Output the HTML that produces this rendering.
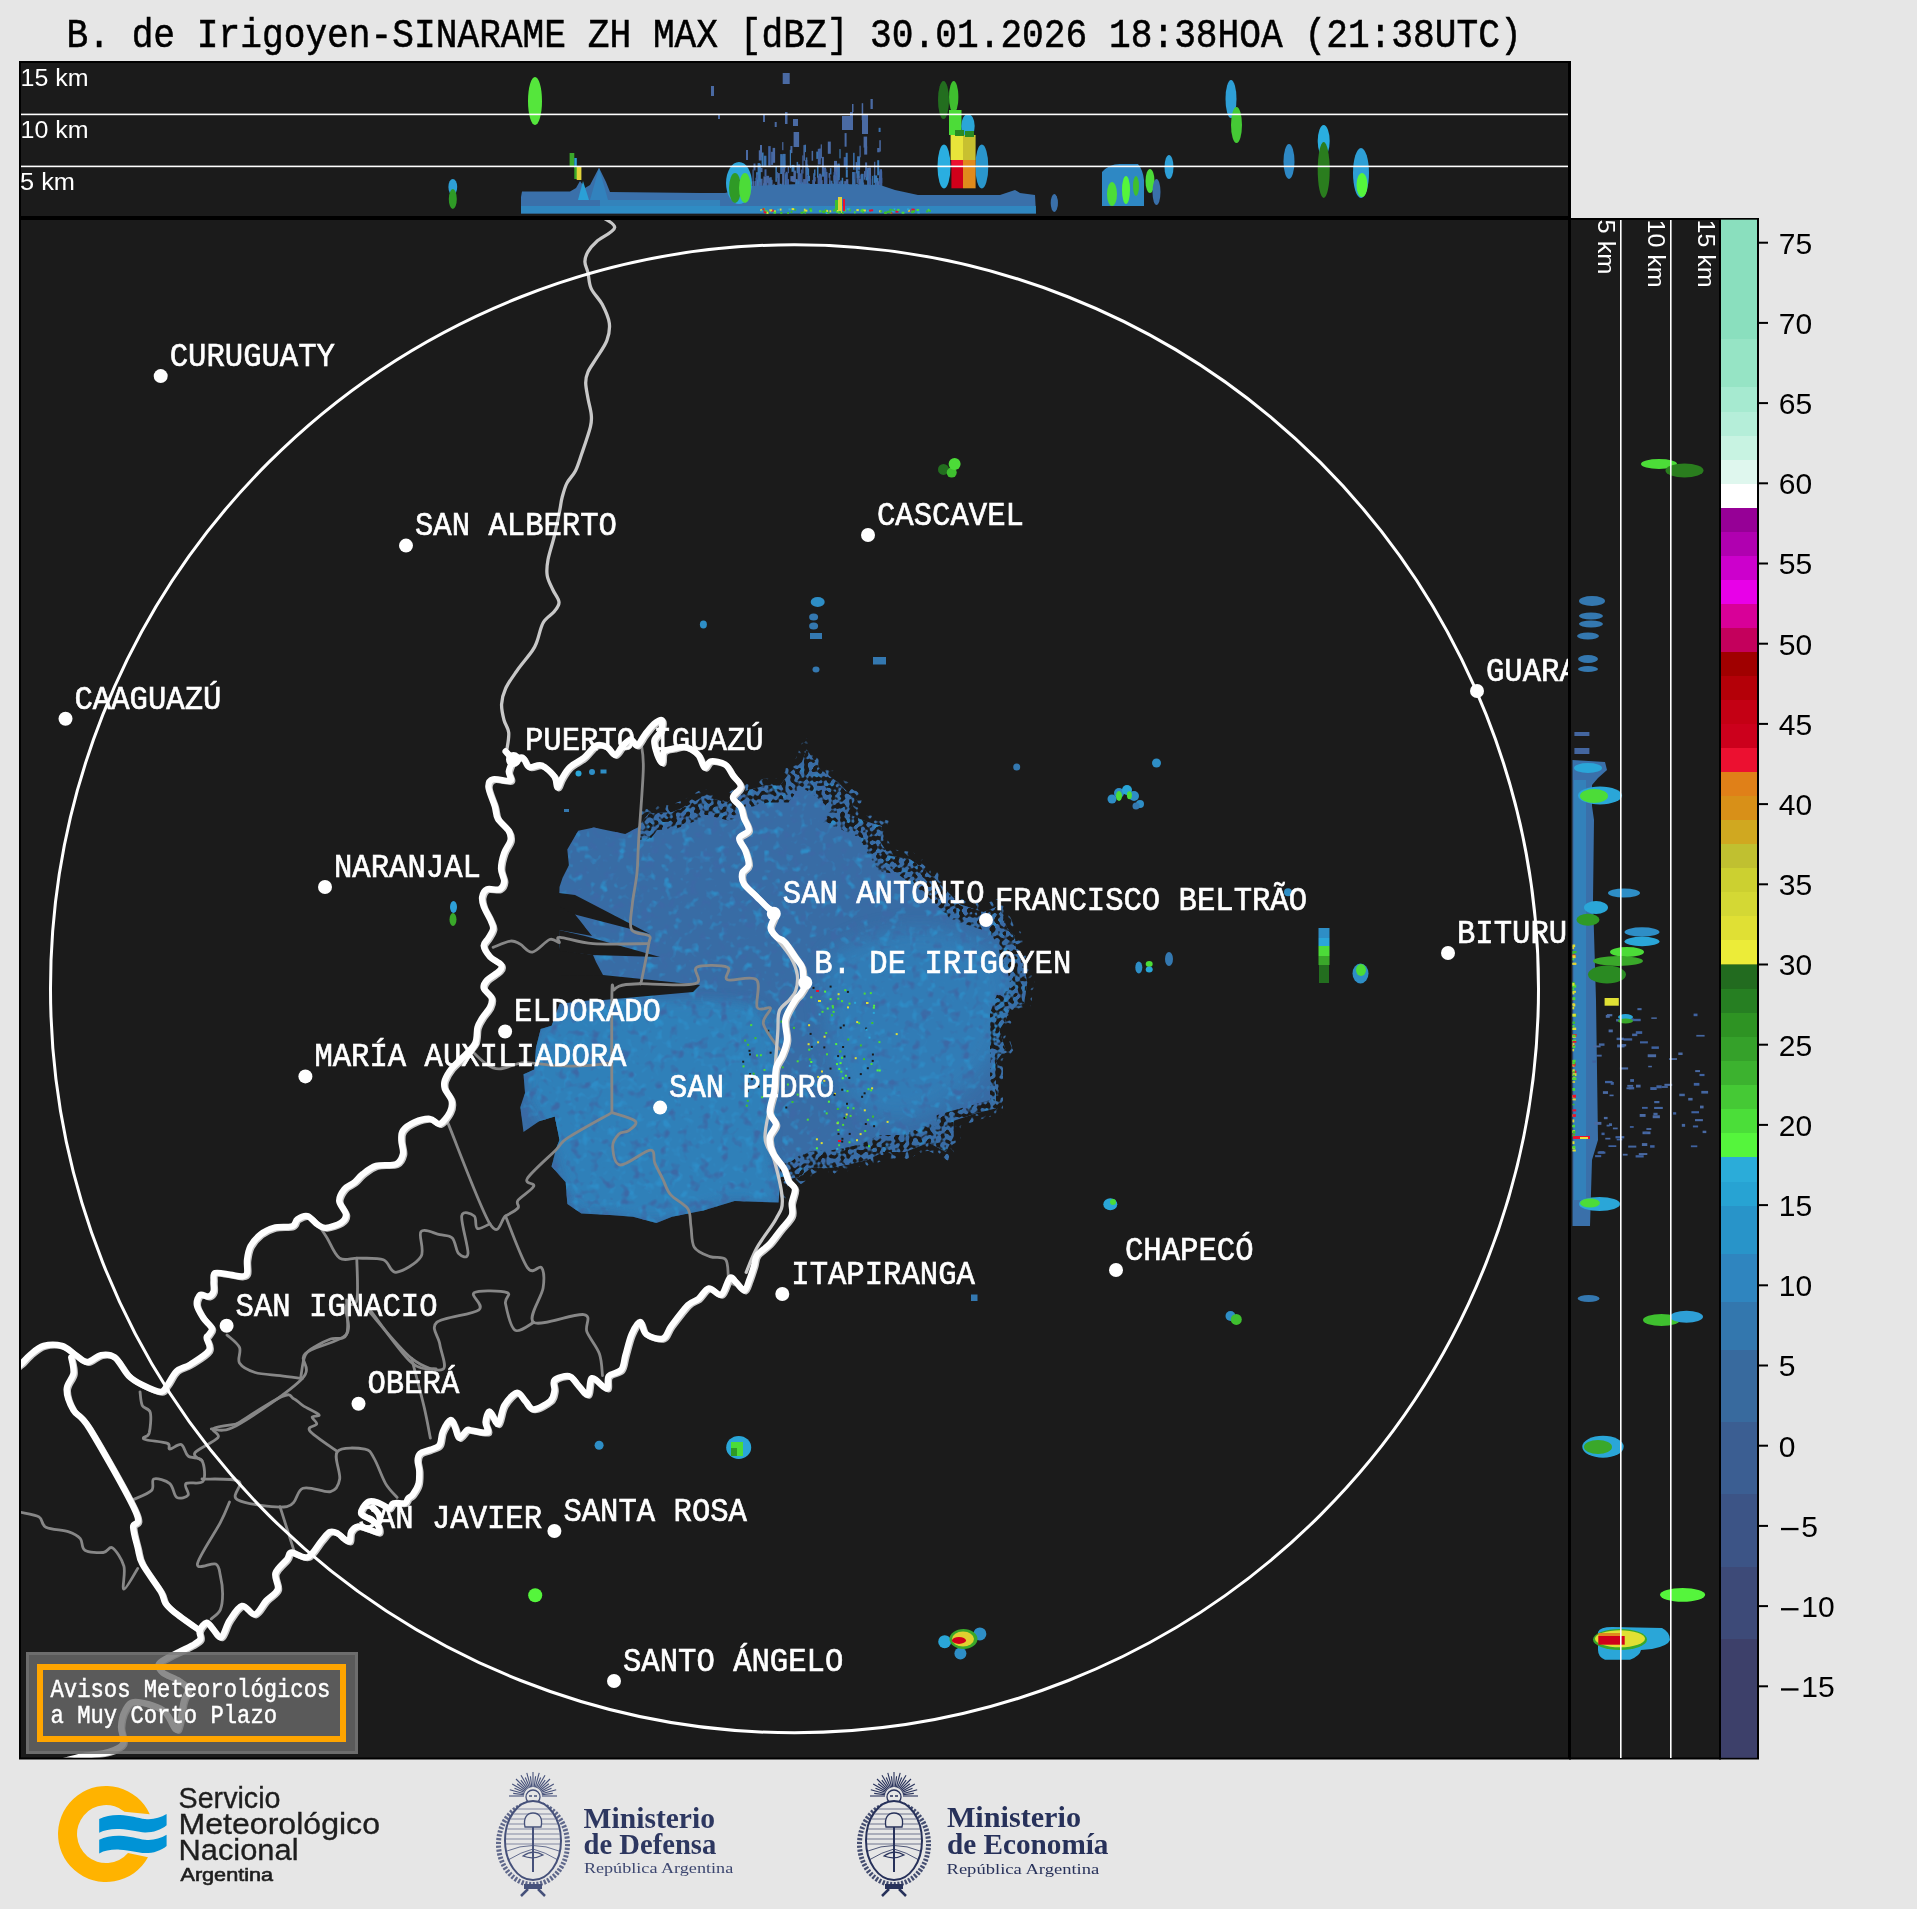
<!DOCTYPE html>
<html><head><meta charset="utf-8"><style>
html,body{margin:0;padding:0;background:#e6e6e6;width:1917px;height:1909px;overflow:hidden}
svg{display:block;will-change:transform}
.mono{font-family:"Liberation Mono",monospace}
.sans{font-family:"Liberation Sans",sans-serif}
.serif{font-family:"Liberation Serif",serif}
</style></head><body>
<svg width="1917" height="1909" viewBox="0 0 1917 1909">
<defs>
<clipPath id="cmap"><rect x="21" y="220" width="1547" height="1537.5"/></clipPath>
<clipPath id="ctop"><rect x="21" y="63" width="1547" height="153"/></clipPath>
<clipPath id="cright"><rect x="1571" y="220" width="148" height="1537.5"/></clipPath>
<filter id="blur6" x="-20%" y="-20%" width="140%" height="140%"><feGaussianBlur stdDeviation="6"/></filter>
<filter id="blur10" x="-20%" y="-20%" width="140%" height="140%"><feGaussianBlur stdDeviation="10"/></filter>
<filter id="texL" x="515" y="745" width="515" height="480" filterUnits="userSpaceOnUse" color-interpolation-filters="sRGB"><feTurbulence type="fractalNoise" baseFrequency="0.11" numOctaves="2" seed="5"/><feColorMatrix type="matrix" values="0 0 0 0 0.18  0 0 0 0 0.55  0 0 0 0 0.78  -4 0 0 0 1.75"/></filter>
<filter id="texD" x="515" y="745" width="515" height="480" filterUnits="userSpaceOnUse" color-interpolation-filters="sRGB"><feTurbulence type="fractalNoise" baseFrequency="0.1" numOctaves="2" seed="17"/><feColorMatrix type="matrix" values="0 0 0 0 0.235  0 0 0 0 0.41  0 0 0 0 0.65  -4 0 0 0 1.8"/></filter>
<filter id="nzH" x="480" y="720" width="600" height="540" filterUnits="userSpaceOnUse" color-interpolation-filters="sRGB"><feTurbulence type="fractalNoise" baseFrequency="0.22" numOctaves="1" seed="9"/><feColorMatrix type="matrix" values="9 0 0 0 -4.3  9 0 0 0 -4.3  9 0 0 0 -4.3  0 0 0 0 1"/></filter>
<filter id="nzS" x="480" y="720" width="600" height="540" filterUnits="userSpaceOnUse" color-interpolation-filters="sRGB"><feTurbulence type="fractalNoise" baseFrequency="0.2" numOctaves="1" seed="23"/><feColorMatrix type="matrix" values="9 0 0 0 -5.2  9 0 0 0 -5.2  9 0 0 0 -5.2  0 0 0 0 1"/></filter>
<mask id="mH" maskUnits="userSpaceOnUse" x="480" y="720" width="600" height="540"><rect x="480" y="720" width="600" height="540" fill="#fff" filter="url(#nzH)"/></mask>
<mask id="mS" maskUnits="userSpaceOnUse" x="480" y="720" width="600" height="540"><rect x="480" y="720" width="600" height="540" fill="#fff" filter="url(#nzS)"/></mask>
</defs>
<rect width="1917" height="1909" fill="#e6e6e6"/>
<text class="mono" transform="translate(66.5,47.3) scale(1,1.11)" font-size="36.2" fill="#000" stroke="#000" stroke-width="0.5">B. de Irigoyen-SINARAME ZH MAX [dBZ] 30.01.2026 18:38HOA (21:38UTC)</text>
<rect x="19" y="61" width="1552" height="159" fill="#000"/>
<rect x="21" y="63" width="1547" height="153" fill="#1b1b1b"/>
<g clip-path="url(#ctop)">
<rect x="793.5" y="189.4" width="1.2" height="10.6" fill="#3a78b4"/><rect x="764.0" y="178.0" width="1.5" height="18.6" fill="#4466a0"/><rect x="763.0" y="183.3" width="3.0" height="7.9" fill="#3b70ac"/><rect x="759.6" y="178.7" width="3.0" height="19.2" fill="#4466a0"/><rect x="825.9" y="183.9" width="1.2" height="16.1" fill="#3a78b4"/><rect x="861.9" y="186.5" width="1.2" height="6.3" fill="#3a78b4"/><rect x="791.5" y="164.9" width="3.0" height="6.9" fill="#3a78b4"/><rect x="833.8" y="184.5" width="1.2" height="12.8" fill="#3a78b4"/><rect x="759.6" y="188.3" width="2.5" height="11.7" fill="#3f62a0"/><rect x="811.6" y="150.9" width="1.5" height="9.8" fill="#4a6aa3"/><rect x="841.5" y="187.5" width="3.0" height="12.5" fill="#3b70ac"/><rect x="864.0" y="171.1" width="1.2" height="8.6" fill="#4466a0"/><rect x="817.5" y="189.1" width="2.5" height="9.5" fill="#3b70ac"/><rect x="757.0" y="174.3" width="3.0" height="16.2" fill="#3f62a0"/><rect x="795.5" y="185.1" width="2.5" height="11.9" fill="#4466a0"/><rect x="859.5" y="145.7" width="1.2" height="11.6" fill="#4466a0"/><rect x="845.6" y="186.1" width="2.5" height="13.2" fill="#3f62a0"/><rect x="843.7" y="157.1" width="2.5" height="9.6" fill="#3f62a0"/><rect x="773.5" y="190.0" width="2.0" height="4.9" fill="#4a6aa3"/><rect x="846.5" y="183.9" width="2.5" height="16.1" fill="#4466a0"/><rect x="773.3" y="183.8" width="1.5" height="8.4" fill="#3b70ac"/><rect x="862.6" y="186.8" width="2.0" height="10.6" fill="#3b70ac"/><rect x="874.6" y="189.4" width="1.5" height="6.8" fill="#4a6aa3"/><rect x="753.5" y="163.5" width="2.0" height="6.9" fill="#4466a0"/><rect x="770.6" y="179.8" width="2.0" height="13.8" fill="#4a6aa3"/><rect x="840.4" y="180.4" width="1.2" height="13.9" fill="#3b70ac"/><rect x="867.1" y="167.8" width="3.0" height="18.0" fill="#3b70ac"/><rect x="803.0" y="184.0" width="2.5" height="11.7" fill="#4466a0"/><rect x="766.1" y="177.3" width="3.0" height="5.6" fill="#4a6aa3"/><rect x="820.7" y="144.4" width="1.2" height="13.8" fill="#4a6aa3"/><rect x="830.6" y="189.4" width="2.0" height="8.0" fill="#3a78b4"/><rect x="798.6" y="189.9" width="2.5" height="10.1" fill="#3b70ac"/><rect x="813.9" y="190.6" width="2.0" height="5.6" fill="#3f62a0"/><rect x="813.3" y="173.2" width="1.5" height="12.3" fill="#3a78b4"/><rect x="798.3" y="173.3" width="3.0" height="18.6" fill="#3f62a0"/><rect x="877.2" y="160.2" width="2.0" height="15.1" fill="#3a78b4"/><rect x="798.9" y="189.1" width="3.0" height="10.9" fill="#3a78b4"/><rect x="851.7" y="185.6" width="1.5" height="7.6" fill="#4a6aa3"/><rect x="856.7" y="170.5" width="3.0" height="7.6" fill="#3b70ac"/><rect x="797.5" y="191.5" width="2.0" height="4.4" fill="#3b70ac"/><rect x="785.2" y="173.1" width="2.5" height="19.3" fill="#3f62a0"/><rect x="874.2" y="184.7" width="1.5" height="7.5" fill="#3b70ac"/><rect x="777.2" y="188.3" width="3.0" height="11.7" fill="#4466a0"/><rect x="813.4" y="175.1" width="1.2" height="16.8" fill="#4466a0"/><rect x="868.5" y="167.6" width="2.5" height="16.0" fill="#4a6aa3"/><rect x="807.5" y="175.8" width="2.5" height="5.4" fill="#3b70ac"/><rect x="803.4" y="145.1" width="1.5" height="15.6" fill="#4a6aa3"/><rect x="755.5" y="177.7" width="1.5" height="11.4" fill="#3a78b4"/><rect x="796.9" y="179.3" width="1.2" height="6.1" fill="#4466a0"/><rect x="819.4" y="148.6" width="1.5" height="10.9" fill="#4a6aa3"/><rect x="755.6" y="188.2" width="3.0" height="11.8" fill="#3f62a0"/><rect x="785.2" y="183.3" width="2.0" height="6.1" fill="#3b70ac"/><rect x="836.8" y="165.0" width="3.0" height="12.3" fill="#4a6aa3"/><rect x="820.1" y="180.1" width="2.5" height="4.3" fill="#4a6aa3"/><rect x="829.9" y="168.1" width="1.5" height="6.4" fill="#3b70ac"/><rect x="831.2" y="189.9" width="3.0" height="5.0" fill="#3a78b4"/><rect x="823.1" y="167.5" width="3.0" height="5.7" fill="#4466a0"/><rect x="783.8" y="186.8" width="3.0" height="13.2" fill="#3b70ac"/><rect x="823.9" y="169.2" width="2.5" height="18.6" fill="#3f62a0"/><rect x="830.4" y="180.7" width="2.0" height="12.2" fill="#3b70ac"/><rect x="817.0" y="165.6" width="1.5" height="12.1" fill="#3a78b4"/><rect x="864.2" y="146.4" width="3.0" height="8.2" fill="#4a6aa3"/><rect x="859.5" y="189.6" width="2.5" height="5.9" fill="#3f62a0"/><rect x="761.3" y="187.6" width="2.0" height="5.2" fill="#4466a0"/><rect x="866.8" y="189.3" width="2.0" height="10.7" fill="#4a6aa3"/><rect x="784.4" y="189.6" width="1.2" height="10.4" fill="#3b70ac"/><rect x="865.3" y="189.2" width="1.5" height="10.8" fill="#4a6aa3"/><rect x="805.9" y="184.9" width="2.0" height="5.5" fill="#4466a0"/><rect x="795.3" y="182.2" width="2.5" height="15.3" fill="#3f62a0"/><rect x="818.2" y="186.4" width="1.2" height="13.6" fill="#4a6aa3"/><rect x="876.4" y="190.2" width="1.2" height="8.2" fill="#4a6aa3"/><rect x="786.6" y="189.8" width="2.0" height="10.2" fill="#3b70ac"/><rect x="771.1" y="151.8" width="2.0" height="13.1" fill="#4466a0"/><rect x="787.7" y="166.3" width="1.2" height="6.9" fill="#3f62a0"/><rect x="872.1" y="175.9" width="1.2" height="16.8" fill="#3a78b4"/><rect x="861.6" y="190.9" width="2.5" height="9.1" fill="#4466a0"/><rect x="795.4" y="179.1" width="2.0" height="18.8" fill="#3a78b4"/><rect x="768.5" y="180.0" width="1.2" height="7.8" fill="#4a6aa3"/><rect x="785.5" y="188.8" width="2.0" height="11.2" fill="#3a78b4"/><rect x="849.2" y="186.5" width="1.5" height="12.0" fill="#3f62a0"/><rect x="796.4" y="191.7" width="1.2" height="8.0" fill="#4466a0"/><rect x="845.8" y="179.2" width="2.5" height="7.0" fill="#4a6aa3"/><rect x="871.6" y="190.2" width="2.5" height="9.8" fill="#3b70ac"/><rect x="821.9" y="156.9" width="2.0" height="19.5" fill="#4a6aa3"/><rect x="877.8" y="185.3" width="1.5" height="14.7" fill="#3b70ac"/><rect x="878.6" y="127.8" width="2.0" height="4.2" fill="#3b70ac"/><rect x="772.9" y="190.6" width="3.0" height="9.4" fill="#3f62a0"/><rect x="828.6" y="173.1" width="1.5" height="4.7" fill="#4a6aa3"/><rect x="786.4" y="191.9" width="2.0" height="8.1" fill="#3a78b4"/><rect x="793.4" y="191.4" width="1.5" height="8.6" fill="#3f62a0"/><rect x="775.4" y="185.5" width="2.0" height="5.3" fill="#3a78b4"/><rect x="836.0" y="187.4" width="1.2" height="12.6" fill="#3f62a0"/><rect x="856.6" y="189.5" width="2.5" height="10.5" fill="#4466a0"/><rect x="790.4" y="176.1" width="3.0" height="5.4" fill="#4a6aa3"/><rect x="836.2" y="171.9" width="2.5" height="18.1" fill="#3f62a0"/><rect x="844.2" y="181.1" width="3.0" height="8.5" fill="#4a6aa3"/><rect x="757.6" y="163.1" width="2.5" height="18.3" fill="#3a78b4"/><rect x="769.8" y="180.1" width="1.2" height="12.1" fill="#3a78b4"/><rect x="854.1" y="172.1" width="1.5" height="19.3" fill="#4466a0"/><rect x="756.0" y="189.7" width="1.2" height="9.8" fill="#3b70ac"/><rect x="859.0" y="178.9" width="3.0" height="14.0" fill="#4a6aa3"/><rect x="814.6" y="191.9" width="3.0" height="8.1" fill="#3a78b4"/><rect x="763.8" y="180.1" width="2.5" height="15.9" fill="#3f62a0"/><rect x="855.6" y="162.1" width="1.5" height="7.8" fill="#4a6aa3"/><rect x="801.0" y="181.6" width="1.2" height="14.9" fill="#3a78b4"/><rect x="833.0" y="188.5" width="2.0" height="11.5" fill="#3f62a0"/><rect x="835.4" y="173.1" width="1.5" height="13.9" fill="#4466a0"/><rect x="813.7" y="181.4" width="1.2" height="18.6" fill="#4a6aa3"/><rect x="838.5" y="186.5" width="2.5" height="12.3" fill="#3b70ac"/><rect x="811.7" y="190.0" width="1.5" height="10.0" fill="#3f62a0"/><rect x="877.2" y="148.0" width="2.5" height="4.3" fill="#4466a0"/><rect x="786.4" y="188.2" width="1.5" height="11.8" fill="#4466a0"/><rect x="826.4" y="189.6" width="2.0" height="10.4" fill="#4a6aa3"/><rect x="829.2" y="176.0" width="1.2" height="8.5" fill="#3f62a0"/><rect x="781.6" y="155.5" width="1.2" height="11.8" fill="#4a6aa3"/><rect x="752.5" y="181.2" width="2.0" height="11.2" fill="#4a6aa3"/><rect x="805.3" y="184.5" width="2.0" height="5.9" fill="#4466a0"/><rect x="793.5" y="185.4" width="1.5" height="10.4" fill="#4466a0"/><rect x="867.4" y="186.5" width="2.5" height="10.0" fill="#3b70ac"/><rect x="879.8" y="177.8" width="2.5" height="9.8" fill="#3f62a0"/><rect x="861.3" y="186.7" width="2.0" height="4.8" fill="#4a6aa3"/><rect x="783.9" y="187.1" width="1.5" height="12.2" fill="#3f62a0"/><rect x="852.5" y="183.1" width="2.5" height="4.5" fill="#3a78b4"/><rect x="822.3" y="171.7" width="2.5" height="4.8" fill="#3b70ac"/><rect x="830.7" y="189.6" width="2.5" height="10.4" fill="#4466a0"/><rect x="868.7" y="179.2" width="2.5" height="6.7" fill="#3f62a0"/><rect x="788.1" y="187.3" width="2.0" height="12.7" fill="#3b70ac"/><rect x="836.0" y="186.3" width="2.5" height="12.9" fill="#4466a0"/><rect x="773.4" y="189.2" width="2.5" height="7.3" fill="#3a78b4"/><rect x="780.2" y="154.1" width="2.5" height="19.9" fill="#3b70ac"/><rect x="769.9" y="188.6" width="2.0" height="5.5" fill="#3a78b4"/><rect x="763.7" y="187.6" width="3.0" height="8.1" fill="#4a6aa3"/><rect x="865.6" y="169.8" width="2.5" height="10.6" fill="#3a78b4"/><rect x="778.9" y="187.0" width="2.5" height="13.0" fill="#3f62a0"/><rect x="825.5" y="184.9" width="3.0" height="15.0" fill="#4a6aa3"/><rect x="763.9" y="155.7" width="2.5" height="10.2" fill="#3b70ac"/><rect x="874.1" y="161.8" width="1.2" height="18.0" fill="#4a6aa3"/><rect x="756.1" y="172.2" width="2.5" height="18.3" fill="#3a78b4"/><rect x="814.7" y="190.8" width="3.0" height="9.2" fill="#3b70ac"/><rect x="876.4" y="187.4" width="1.5" height="5.7" fill="#4a6aa3"/><rect x="818.9" y="173.7" width="2.5" height="19.1" fill="#4466a0"/><rect x="822.6" y="191.4" width="1.5" height="8.6" fill="#3a78b4"/><rect x="869.7" y="175.4" width="1.5" height="8.9" fill="#3f62a0"/><rect x="819.6" y="182.8" width="1.2" height="16.2" fill="#4466a0"/><rect x="790.4" y="146.0" width="2.0" height="7.1" fill="#4a6aa3"/><rect x="853.2" y="192.0" width="2.5" height="8.0" fill="#3f62a0"/><rect x="874.7" y="175.4" width="2.5" height="18.1" fill="#3a78b4"/><rect x="782.1" y="187.5" width="2.0" height="12.5" fill="#4466a0"/><rect x="754.8" y="181.0" width="2.5" height="14.8" fill="#4466a0"/><rect x="784.9" y="174.4" width="1.5" height="18.8" fill="#3b70ac"/><rect x="756.4" y="185.4" width="2.5" height="10.7" fill="#4a6aa3"/><rect x="752.9" y="186.5" width="1.2" height="13.5" fill="#4a6aa3"/><rect x="815.4" y="188.4" width="1.5" height="11.6" fill="#4a6aa3"/><rect x="811.5" y="187.1" width="1.2" height="12.9" fill="#3a78b4"/><rect x="815.5" y="188.7" width="2.5" height="7.6" fill="#4466a0"/><rect x="873.4" y="189.5" width="1.5" height="10.3" fill="#4466a0"/><rect x="876.7" y="189.6" width="1.2" height="4.8" fill="#4a6aa3"/><rect x="802.3" y="155.4" width="1.2" height="18.1" fill="#4466a0"/><rect x="871.2" y="185.6" width="3.0" height="7.0" fill="#3b70ac"/><rect x="756.1" y="174.5" width="2.0" height="10.1" fill="#3f62a0"/><rect x="808.6" y="190.2" width="1.2" height="5.3" fill="#3f62a0"/><rect x="805.8" y="157.4" width="1.5" height="13.0" fill="#3b70ac"/><rect x="797.6" y="164.4" width="2.5" height="17.2" fill="#4466a0"/><rect x="758.3" y="181.7" width="2.5" height="10.0" fill="#4a6aa3"/><rect x="793.4" y="170.6" width="2.5" height="11.6" fill="#4a6aa3"/><rect x="855.9" y="168.7" width="1.2" height="4.7" fill="#3b70ac"/><rect x="760.0" y="151.6" width="1.2" height="8.1" fill="#3a78b4"/><rect x="795.4" y="186.9" width="3.0" height="13.1" fill="#4466a0"/><rect x="785.6" y="171.8" width="2.0" height="9.1" fill="#3f62a0"/><rect x="752.5" y="169.5" width="1.2" height="18.7" fill="#4466a0"/><rect x="857.7" y="190.2" width="2.5" height="9.8" fill="#3b70ac"/><rect x="853.1" y="152.8" width="1.5" height="17.0" fill="#3b70ac"/><rect x="775.4" y="166.0" width="1.5" height="15.8" fill="#3a78b4"/><rect x="782.2" y="160.4" width="3.0" height="11.4" fill="#4466a0"/><rect x="817.5" y="184.0" width="2.5" height="6.6" fill="#4466a0"/><rect x="835.1" y="181.5" width="1.5" height="12.7" fill="#3b70ac"/><rect x="762.8" y="190.4" width="2.5" height="9.6" fill="#4a6aa3"/><rect x="782.0" y="183.4" width="1.5" height="13.9" fill="#3a78b4"/><rect x="860.4" y="174.5" width="2.0" height="5.9" fill="#3f62a0"/><rect x="787.8" y="187.0" width="2.0" height="8.1" fill="#4a6aa3"/><rect x="808.2" y="188.7" width="2.0" height="7.8" fill="#3a78b4"/><rect x="776.1" y="190.9" width="1.5" height="8.0" fill="#3a78b4"/><rect x="819.4" y="175.2" width="2.5" height="5.6" fill="#4466a0"/><rect x="765.1" y="181.7" width="2.5" height="17.1" fill="#3f62a0"/><rect x="757.2" y="186.4" width="1.5" height="5.9" fill="#3a78b4"/><rect x="876.5" y="178.0" width="2.0" height="18.9" fill="#3a78b4"/><rect x="862.9" y="182.5" width="1.2" height="8.2" fill="#4466a0"/><rect x="833.6" y="172.2" width="1.2" height="9.6" fill="#3f62a0"/><rect x="795.5" y="191.3" width="1.2" height="8.7" fill="#3a78b4"/><rect x="845.7" y="152.8" width="2.0" height="17.0" fill="#3b70ac"/><rect x="838.8" y="188.7" width="1.5" height="9.0" fill="#4466a0"/><rect x="853.8" y="179.3" width="1.2" height="5.0" fill="#3b70ac"/><rect x="837.0" y="189.3" width="1.5" height="10.7" fill="#3b70ac"/><rect x="841.0" y="183.6" width="2.0" height="8.5" fill="#3b70ac"/><rect x="874.0" y="186.0" width="2.0" height="13.1" fill="#3b70ac"/><rect x="805.3" y="160.0" width="2.0" height="19.9" fill="#4a6aa3"/><rect x="802.0" y="183.7" width="2.5" height="16.3" fill="#4a6aa3"/><rect x="806.2" y="164.5" width="2.0" height="10.5" fill="#3b70ac"/><rect x="851.0" y="189.8" width="1.5" height="4.8" fill="#3b70ac"/><rect x="763.4" y="176.4" width="3.0" height="9.9" fill="#4a6aa3"/><rect x="770.7" y="186.7" width="1.2" height="12.3" fill="#4466a0"/><rect x="801.1" y="169.6" width="1.5" height="16.7" fill="#3f62a0"/><rect x="768.2" y="146.1" width="2.5" height="19.6" fill="#3f62a0"/><rect x="758.8" y="150.3" width="3.0" height="10.2" fill="#4a6aa3"/><rect x="834.0" y="160.9" width="3.0" height="13.9" fill="#4a6aa3"/><rect x="858.1" y="188.8" width="2.5" height="7.5" fill="#3a78b4"/><rect x="772.0" y="184.9" width="1.5" height="6.4" fill="#4466a0"/><rect x="865.1" y="162.4" width="2.0" height="14.8" fill="#4466a0"/><rect x="801.9" y="182.3" width="2.0" height="17.6" fill="#3b70ac"/><rect x="791.5" y="187.4" width="2.0" height="10.2" fill="#3b70ac"/><rect x="816.5" y="188.8" width="2.5" height="4.1" fill="#3b70ac"/><rect x="782.1" y="168.9" width="2.5" height="16.5" fill="#4a6aa3"/><rect x="855.7" y="183.8" width="2.0" height="5.1" fill="#3b70ac"/><rect x="798.8" y="166.1" width="1.2" height="12.1" fill="#4466a0"/><rect x="833.5" y="190.6" width="3.0" height="9.4" fill="#4466a0"/><rect x="758.9" y="180.8" width="1.5" height="10.0" fill="#4466a0"/><rect x="861.7" y="103.2" width="1.5" height="17.0" fill="#4a6aa3"/><rect x="877.7" y="181.2" width="1.5" height="18.8" fill="#4a6aa3"/><rect x="760.4" y="185.1" width="1.5" height="14.9" fill="#3f62a0"/><rect x="866.8" y="186.9" width="1.5" height="13.1" fill="#3f62a0"/><rect x="816.3" y="151.6" width="2.0" height="7.3" fill="#3a78b4"/><rect x="816.8" y="185.9" width="1.5" height="4.6" fill="#3b70ac"/><rect x="772.6" y="147.9" width="2.5" height="14.9" fill="#4a6aa3"/><rect x="853.4" y="187.1" width="1.2" height="12.9" fill="#3f62a0"/><rect x="875.7" y="182.3" width="1.2" height="12.3" fill="#3f62a0"/><rect x="879.1" y="176.1" width="2.0" height="10.3" fill="#3f62a0"/><rect x="800.1" y="184.6" width="2.0" height="6.3" fill="#4466a0"/><rect x="808.6" y="188.9" width="1.2" height="11.1" fill="#3f62a0"/><rect x="856.9" y="187.3" width="3.0" height="12.7" fill="#3f62a0"/><rect x="845.8" y="170.0" width="2.0" height="7.5" fill="#3a78b4"/><rect x="832.1" y="183.3" width="1.2" height="9.8" fill="#4a6aa3"/><rect x="814.5" y="176.8" width="1.2" height="4.7" fill="#4466a0"/><rect x="824.6" y="186.2" width="3.0" height="12.4" fill="#4a6aa3"/><rect x="804.9" y="186.3" width="2.0" height="6.1" fill="#3a78b4"/><rect x="858.0" y="189.2" width="1.5" height="4.2" fill="#4a6aa3"/><rect x="809.7" y="190.9" width="2.0" height="6.3" fill="#3b70ac"/><rect x="857.1" y="156.3" width="3.0" height="13.5" fill="#3b70ac"/><rect x="829.0" y="180.3" width="1.5" height="11.9" fill="#4466a0"/><rect x="757.6" y="179.9" width="1.5" height="10.5" fill="#4a6aa3"/><rect x="759.5" y="167.9" width="3.0" height="4.2" fill="#4a6aa3"/><rect x="770.2" y="188.4" width="3.0" height="11.6" fill="#3b70ac"/><rect x="856.1" y="188.9" width="2.0" height="9.0" fill="#4466a0"/><rect x="879.2" y="171.4" width="3.0" height="11.6" fill="#4466a0"/><rect x="800.0" y="182.8" width="1.2" height="17.2" fill="#3b70ac"/><rect x="834.4" y="189.9" width="2.0" height="10.1" fill="#4466a0"/><rect x="786.0" y="179.1" width="3.0" height="11.0" fill="#3f62a0"/><rect x="789.8" y="149.8" width="1.2" height="18.3" fill="#3a78b4"/><rect x="753.9" y="187.2" width="1.5" height="7.8" fill="#4a6aa3"/><rect x="847.5" y="185.7" width="2.0" height="14.3" fill="#3a78b4"/><rect x="782.6" y="153.9" width="3.0" height="14.1" fill="#3b70ac"/><rect x="812.4" y="179.9" width="1.2" height="4.1" fill="#3b70ac"/><rect x="874.3" y="187.7" width="1.5" height="12.3" fill="#3b70ac"/><rect x="831.7" y="190.7" width="1.5" height="9.3" fill="#4466a0"/><rect x="755.4" y="190.2" width="2.0" height="9.8" fill="#4a6aa3"/><rect x="841.7" y="191.5" width="1.2" height="6.2" fill="#4466a0"/><rect x="846.3" y="190.9" width="2.0" height="9.1" fill="#4a6aa3"/><rect x="856.6" y="164.6" width="1.2" height="18.3" fill="#3b70ac"/><rect x="765.7" y="188.3" width="1.2" height="5.8" fill="#4466a0"/><rect x="857.6" y="176.0" width="1.2" height="8.6" fill="#4a6aa3"/><rect x="764.5" y="169.3" width="2.0" height="7.3" fill="#3f62a0"/><rect x="806.2" y="191.7" width="2.0" height="8.1" fill="#4466a0"/><rect x="843.6" y="184.7" width="3.0" height="9.1" fill="#3a78b4"/><rect x="812.9" y="186.6" width="2.5" height="13.4" fill="#4466a0"/><rect x="807.9" y="168.3" width="1.2" height="9.5" fill="#3a78b4"/><rect x="824.5" y="171.9" width="3.0" height="17.2" fill="#3f62a0"/><rect x="773.8" y="192.0" width="1.2" height="7.2" fill="#4466a0"/><rect x="796.5" y="190.4" width="1.5" height="9.6" fill="#3b70ac"/><rect x="827.8" y="141.6" width="3.0" height="12.2" fill="#4a6aa3"/><rect x="788.3" y="188.1" width="2.5" height="11.9" fill="#4a6aa3"/><rect x="766.1" y="175.8" width="3.0" height="5.3" fill="#4466a0"/><rect x="832.4" y="185.0" width="2.5" height="10.4" fill="#4466a0"/><rect x="806.0" y="175.4" width="2.0" height="10.0" fill="#3f62a0"/><rect x="806.8" y="179.4" width="1.5" height="6.7" fill="#3b70ac"/><rect x="768.2" y="177.6" width="3.0" height="15.0" fill="#4466a0"/><rect x="796.6" y="185.7" width="2.5" height="6.5" fill="#3a78b4"/><rect x="847.0" y="189.0" width="2.0" height="11.0" fill="#3a78b4"/><rect x="781.6" y="185.5" width="1.5" height="14.3" fill="#3a78b4"/><rect x="776.5" y="186.3" width="3.0" height="13.7" fill="#4a6aa3"/><rect x="844.6" y="133.1" width="2.0" height="13.6" fill="#4a6aa3"/><rect x="782.2" y="142.1" width="1.2" height="8.1" fill="#4a6aa3"/><rect x="875.2" y="190.3" width="1.5" height="9.7" fill="#3f62a0"/><rect x="845.9" y="182.9" width="1.2" height="7.1" fill="#3f62a0"/><rect x="778.4" y="184.1" width="2.5" height="4.5" fill="#3b70ac"/><rect x="840.8" y="180.9" width="2.5" height="14.1" fill="#4466a0"/><rect x="770.2" y="177.2" width="1.5" height="10.5" fill="#3b70ac"/><rect x="841.7" y="177.8" width="1.5" height="14.4" fill="#3a78b4"/><rect x="861.1" y="173.8" width="2.5" height="14.3" fill="#3b70ac"/><rect x="792.1" y="176.2" width="2.5" height="5.6" fill="#4a6aa3"/><rect x="852.1" y="172.0" width="2.0" height="14.1" fill="#3b70ac"/><rect x="813.8" y="191.7" width="3.0" height="8.3" fill="#4a6aa3"/><rect x="866.5" y="185.6" width="2.5" height="4.2" fill="#4466a0"/><rect x="756.9" y="179.5" width="1.5" height="6.6" fill="#3a78b4"/><rect x="796.6" y="161.9" width="1.5" height="11.3" fill="#3b70ac"/><rect x="817.6" y="175.7" width="3.0" height="17.3" fill="#3f62a0"/><rect x="804.5" y="144.7" width="1.5" height="7.4" fill="#3b70ac"/><rect x="817.8" y="148.8" width="3.0" height="15.7" fill="#3f62a0"/><rect x="833.6" y="187.3" width="1.2" height="10.1" fill="#4466a0"/><rect x="761.6" y="152.5" width="2.0" height="14.1" fill="#3a78b4"/><rect x="785.9" y="187.9" width="3.0" height="12.1" fill="#4a6aa3"/><rect x="879.3" y="140.2" width="1.5" height="11.4" fill="#4a6aa3"/><rect x="871.0" y="190.9" width="1.5" height="9.1" fill="#3b70ac"/><rect x="834.2" y="171.6" width="1.5" height="17.0" fill="#3f62a0"/><rect x="837.3" y="163.6" width="2.5" height="16.7" fill="#3b70ac"/><rect x="879.5" y="169.2" width="2.5" height="14.4" fill="#3f62a0"/><rect x="852.3" y="187.8" width="2.0" height="12.2" fill="#3b70ac"/><rect x="838.9" y="181.5" width="2.0" height="16.9" fill="#3f62a0"/><rect x="783.4" y="186.3" width="2.5" height="11.7" fill="#3a78b4"/><rect x="833.6" y="174.8" width="2.0" height="9.8" fill="#3b70ac"/><rect x="759.3" y="163.8" width="1.5" height="18.5" fill="#3a78b4"/><rect x="858.4" y="176.0" width="1.2" height="4.2" fill="#4a6aa3"/><rect x="873.8" y="174.9" width="1.2" height="8.0" fill="#3a78b4"/><rect x="770.3" y="187.7" width="2.0" height="12.3" fill="#4a6aa3"/><rect x="778.7" y="183.8" width="3.0" height="12.6" fill="#3a78b4"/><rect x="877.1" y="190.5" width="3.0" height="9.5" fill="#3f62a0"/><rect x="777.3" y="173.1" width="2.5" height="12.5" fill="#4466a0"/><rect x="823.0" y="187.1" width="1.5" height="7.7" fill="#3b70ac"/><rect x="815.1" y="191.0" width="1.5" height="9.0" fill="#3b70ac"/><rect x="783.6" y="189.1" width="1.2" height="10.9" fill="#4a6aa3"/><rect x="859.6" y="181.9" width="2.0" height="13.0" fill="#3b70ac"/><rect x="800.0" y="183.3" width="1.2" height="16.7" fill="#4a6aa3"/><rect x="833.5" y="175.8" width="3.0" height="4.5" fill="#4466a0"/><rect x="839.4" y="149.1" width="1.2" height="9.3" fill="#3a78b4"/><rect x="814.0" y="169.4" width="1.5" height="6.3" fill="#3b70ac"/><rect x="832.0" y="185.4" width="2.0" height="14.6" fill="#3f62a0"/><rect x="812.7" y="180.1" width="1.5" height="16.3" fill="#3f62a0"/><rect x="807.7" y="183.2" width="2.0" height="12.9" fill="#3f62a0"/><rect x="797.5" y="181.1" width="2.0" height="9.3" fill="#3a78b4"/><rect x="796.1" y="188.4" width="1.2" height="11.6" fill="#3f62a0"/><rect x="776.6" y="172.0" width="1.2" height="6.0" fill="#4466a0"/><rect x="803.1" y="179.1" width="3.0" height="10.5" fill="#4466a0"/><rect x="803.0" y="190.2" width="2.5" height="4.7" fill="#3a78b4"/><rect x="850.0" y="191.0" width="3.0" height="9.0" fill="#3a78b4"/><rect x="711.0" y="86.0" width="3.0" height="10.0" fill="#4a6aa3"/><rect x="782.7" y="73.0" width="7.0" height="11.0" fill="#4a6aa3"/><rect x="718.0" y="115.0" width="2.0" height="4.0" fill="#4a6aa3"/><rect x="763.0" y="115.0" width="2.0" height="7.0" fill="#4a6aa3"/><rect x="774.7" y="122.0" width="2.0" height="5.0" fill="#4a6aa3"/><rect x="785.0" y="112.0" width="2.5" height="12.0" fill="#4a6aa3"/><rect x="793.0" y="119.0" width="5.0" height="7.0" fill="#4a6aa3"/><rect x="793.6" y="132.0" width="5.5" height="15.0" fill="#4a6aa3"/><rect x="842.0" y="116.0" width="8.0" height="14.0" fill="#4a6aa3"/><rect x="850.0" y="112.0" width="3.0" height="18.0" fill="#4a6aa3"/><rect x="862.0" y="115.0" width="6.0" height="19.0" fill="#4a6aa3"/><rect x="863.6" y="136.6" width="3.5" height="11.0" fill="#4a6aa3"/><rect x="870.5" y="99.0" width="2.3" height="10.0" fill="#4a6aa3"/><rect x="852.0" y="104.0" width="1.5" height="8.0" fill="#4a6aa3"/><rect x="746.0" y="150.0" width="2.0" height="10.0" fill="#4a6aa3"/><rect x="760.0" y="145.0" width="2.0" height="12.0" fill="#4a6aa3"/><path d="M521,197 L522,191.5 L570,191.5 L576,188 L580,181 L585,188 L590,185 L599,167.7 L606,182 L610,192 L700,193 L725,193 L752,186 L800,184 L840,184 L880,185 L895,190 L918,195 L1000,195 L1015,190 L1020,193 L1035,195 L1036,213.5 L521,213.5 Z" fill="#3a70aa"/><path d="M521,206 L1036,206 L1036,213.5 L521,213.5 Z" fill="#2e8fc7" opacity="0.75"/><path d="M600,200 L720,200 L720,213 L600,213 Z" fill="#2e8fc7" opacity="0.6"/><path d="M578,200 L583,181 L589,200 Z" fill="#2aa0d6"/><path d="M590,200 L599,168 L608,200 Z" fill="#3282bd"/><rect x="823.9" y="210.5" width="2.5" height="2.0" fill="#3fbf2f"/><rect x="861.4" y="208.9" width="2.5" height="2.0" fill="#4cdc38"/><rect x="837.8" y="208.4" width="1.8" height="2.0" fill="#3fbf2f"/><rect x="766.3" y="211.7" width="2.5" height="2.0" fill="#4cdc38"/><rect x="822.7" y="211.1" width="2.3" height="2.0" fill="#3fbf2f"/><rect x="803.9" y="208.7" width="1.6" height="2.0" fill="#e0e034"/><rect x="763.5" y="210.6" width="2.9" height="2.0" fill="#ec1030"/><rect x="769.3" y="210.1" width="2.7" height="2.0" fill="#ec1030"/><rect x="891.5" y="210.3" width="2.9" height="2.0" fill="#2aa6d8"/><rect x="835.9" y="210.7" width="2.4" height="2.0" fill="#4cdc38"/><rect x="928.8" y="209.9" width="2.1" height="2.0" fill="#3fbf2f"/><rect x="777.3" y="208.8" width="1.7" height="2.0" fill="#2aa6d8"/><rect x="762.6" y="208.0" width="2.5" height="2.0" fill="#4cdc38"/><rect x="927.7" y="208.9" width="1.7" height="2.0" fill="#4cdc38"/><rect x="840.3" y="210.9" width="1.9" height="2.0" fill="#e0e034"/><rect x="884.7" y="211.7" width="2.0" height="2.0" fill="#3fbf2f"/><rect x="887.0" y="210.9" width="1.6" height="2.0" fill="#3fbf2f"/><rect x="866.9" y="209.8" width="2.9" height="2.0" fill="#2aa6d8"/><rect x="803.2" y="210.9" width="1.5" height="2.0" fill="#4cdc38"/><rect x="762.5" y="208.3" width="2.0" height="2.0" fill="#ec1030"/><rect x="884.0" y="211.8" width="2.8" height="2.0" fill="#3fbf2f"/><rect x="863.5" y="209.5" width="2.4" height="2.0" fill="#e0e034"/><rect x="834.6" y="208.6" width="2.7" height="2.0" fill="#3fbf2f"/><rect x="821.8" y="210.5" width="2.1" height="2.0" fill="#3fbf2f"/><rect x="825.6" y="211.8" width="2.7" height="2.0" fill="#2aa6d8"/><rect x="856.4" y="209.1" width="2.4" height="2.0" fill="#e0e034"/><rect x="870.7" y="209.3" width="2.4" height="2.0" fill="#ec1030"/><rect x="926.2" y="210.4" width="2.0" height="2.0" fill="#3fbf2f"/><rect x="832.9" y="209.5" width="2.5" height="2.0" fill="#3fbf2f"/><rect x="862.3" y="211.2" width="1.9" height="2.0" fill="#3fbf2f"/><rect x="760.3" y="209.1" width="1.7" height="2.0" fill="#e0e034"/><rect x="916.5" y="209.2" width="1.7" height="2.0" fill="#4cdc38"/><rect x="911.4" y="208.6" width="3.0" height="2.0" fill="#ec1030"/><rect x="895.5" y="210.7" width="2.9" height="2.0" fill="#ec1030"/><rect x="819.0" y="210.2" width="2.2" height="2.0" fill="#4cdc38"/><rect x="824.9" y="209.2" width="1.6" height="2.0" fill="#3fbf2f"/><rect x="827.2" y="211.7" width="2.4" height="2.0" fill="#3fbf2f"/><rect x="761.6" y="209.8" width="1.6" height="2.0" fill="#2aa6d8"/><rect x="897.1" y="208.9" width="2.4" height="2.0" fill="#4cdc38"/><rect x="912.5" y="209.3" width="2.3" height="2.0" fill="#ec1030"/><rect x="794.3" y="208.8" width="1.8" height="2.0" fill="#3fbf2f"/><rect x="879.2" y="210.3" width="2.0" height="2.0" fill="#e0e034"/><rect x="892.5" y="209.0" width="2.9" height="2.0" fill="#3fbf2f"/><rect x="843.9" y="209.5" width="2.2" height="2.0" fill="#4cdc38"/><rect x="773.9" y="210.4" width="2.0" height="2.0" fill="#e0e034"/><rect x="848.3" y="208.4" width="1.8" height="2.0" fill="#4cdc38"/><rect x="908.0" y="209.9" width="2.4" height="2.0" fill="#ec1030"/><rect x="804.5" y="209.7" width="2.9" height="2.0" fill="#e0e034"/><rect x="890.4" y="211.9" width="1.9" height="2.0" fill="#ec1030"/><rect x="766.4" y="212.0" width="2.1" height="2.0" fill="#3fbf2f"/><rect x="764.7" y="210.2" width="2.8" height="2.0" fill="#4cdc38"/><rect x="837.9" y="211.5" width="2.5" height="2.0" fill="#4cdc38"/><rect x="916.8" y="209.0" width="2.3" height="2.0" fill="#4cdc38"/><rect x="868.9" y="209.6" width="2.2" height="2.0" fill="#ec1030"/><rect x="787.2" y="212.0" width="1.8" height="2.0" fill="#3fbf2f"/><rect x="766.6" y="211.8" width="1.6" height="2.0" fill="#e0e034"/><rect x="854.0" y="211.3" width="1.6" height="2.0" fill="#4cdc38"/><rect x="893.7" y="208.2" width="1.7" height="2.0" fill="#2aa6d8"/><rect x="888.3" y="210.7" width="1.9" height="2.0" fill="#3fbf2f"/><rect x="860.5" y="209.9" width="2.1" height="2.0" fill="#4cdc38"/><rect x="826.3" y="209.9" width="1.8" height="2.0" fill="#e0e034"/><rect x="800.5" y="211.7" width="2.8" height="2.0" fill="#3fbf2f"/><rect x="839.5" y="211.2" width="1.7" height="2.0" fill="#3fbf2f"/><rect x="901.6" y="211.7" width="2.8" height="2.0" fill="#4cdc38"/><rect x="911.1" y="211.1" width="2.9" height="2.0" fill="#3fbf2f"/><rect x="917.4" y="211.4" width="2.4" height="2.0" fill="#2aa6d8"/><rect x="836.9" y="209.3" width="1.9" height="2.0" fill="#e0e034"/><rect x="779.7" y="208.6" width="1.8" height="2.0" fill="#e0e034"/><rect x="769.6" y="210.2" width="1.7" height="2.0" fill="#2aa6d8"/><rect x="908.0" y="209.7" width="1.9" height="2.0" fill="#e0e034"/><rect x="764.3" y="211.4" width="2.0" height="2.0" fill="#ec1030"/><rect x="788.5" y="208.4" width="2.2" height="2.0" fill="#2aa6d8"/><rect x="842.0" y="211.9" width="1.6" height="2.0" fill="#3fbf2f"/><rect x="912.2" y="210.2" width="2.8" height="2.0" fill="#3fbf2f"/><rect x="780.3" y="211.9" width="2.1" height="2.0" fill="#3fbf2f"/><rect x="804.5" y="211.7" width="1.6" height="2.0" fill="#3fbf2f"/><rect x="809.2" y="208.2" width="2.6" height="2.0" fill="#3fbf2f"/><rect x="809.9" y="209.8" width="2.3" height="2.0" fill="#4cdc38"/><rect x="846.8" y="208.0" width="2.7" height="2.0" fill="#2aa6d8"/><rect x="849.5" y="209.4" width="1.6" height="2.0" fill="#3fbf2f"/><rect x="829.5" y="210.3" width="1.7" height="2.0" fill="#e0e034"/><rect x="790.6" y="210.8" width="1.8" height="2.0" fill="#3fbf2f"/><rect x="773.5" y="211.6" width="2.6" height="2.0" fill="#4cdc38"/><rect x="889.4" y="208.8" width="2.4" height="2.0" fill="#3fbf2f"/><rect x="880.3" y="210.3" width="1.8" height="2.0" fill="#3fbf2f"/><rect x="771.2" y="209.6" width="2.6" height="2.0" fill="#ec1030"/><rect x="769.4" y="209.3" width="2.8" height="2.0" fill="#e0e034"/><rect x="907.0" y="208.4" width="2.1" height="2.0" fill="#2aa6d8"/><rect x="889.7" y="211.5" width="1.9" height="2.0" fill="#3fbf2f"/><rect x="791.6" y="208.1" width="2.6" height="2.0" fill="#e0e034"/><rect x="838.0" y="197.0" width="4.0" height="14.0" fill="#e0d23a"/><rect x="843.0" y="199.0" width="2.0" height="12.0" fill="#ec1030"/><rect x="835.0" y="200.0" width="3.0" height="10.0" fill="#3fbf2f"/><ellipse cx="535" cy="101" rx="7" ry="24" fill="#55e63c" opacity="1"/><ellipse cx="452.8" cy="187" rx="4.4" ry="8" fill="#2e9fd6" opacity="1"/><ellipse cx="452.8" cy="199" rx="4" ry="10" fill="#2f9a26" opacity="1"/><rect x="569.6" y="153.0" width="4.7" height="14.0" fill="#3aa82a"/><rect x="574.3" y="158.0" width="2.5" height="10.0" fill="#2e9fd6"/><rect x="574.3" y="167.0" width="3.0" height="12.0" fill="#3aa82a"/><rect x="576.7" y="167.0" width="4.7" height="13.0" fill="#e0d23a"/><ellipse cx="739" cy="183" rx="13" ry="21" fill="#2ea6da" opacity="1"/><ellipse cx="735" cy="188" rx="6" ry="15" fill="#2f9a26" opacity="1"/><ellipse cx="745" cy="188" rx="6" ry="15" fill="#4cdc38" opacity="1"/><ellipse cx="943.5" cy="100" rx="5.5" ry="19" fill="#236e1f" opacity="1"/><ellipse cx="953.7" cy="97" rx="4.7" ry="16" fill="#3fbf2f" opacity="1"/><rect x="949.0" y="110.0" width="12.5" height="25.0" fill="#4cdc38"/><ellipse cx="968" cy="126" rx="6.7" ry="12" fill="#2aa6d8" opacity="1"/><ellipse cx="944" cy="166.5" rx="6.5" ry="22" fill="#2aaee0" opacity="1"/><ellipse cx="981.8" cy="166.5" rx="6.5" ry="22" fill="#2a96cc" opacity="1"/><rect x="950.6" y="135.0" width="12.4" height="25.0" fill="#e8e43a"/><rect x="963.0" y="135.0" width="12.6" height="25.0" fill="#c8c030"/><rect x="951.4" y="160.0" width="11.6" height="28.3" fill="#d0001a"/><rect x="951.4" y="160.0" width="11.6" height="6.0" fill="#ec1030"/><rect x="963.0" y="160.0" width="12.6" height="28.3" fill="#e08a1c"/><rect x="955.0" y="130.0" width="9.0" height="6.0" fill="#2a8a22"/><rect x="965.0" y="131.0" width="9.0" height="6.0" fill="#2a8a22"/><ellipse cx="1054.3" cy="203" rx="3.6" ry="9" fill="#3a70aa" opacity="1"/><ellipse cx="1231" cy="99" rx="5.5" ry="19" fill="#2e9fd6" opacity="1"/><ellipse cx="1236.5" cy="125" rx="5.5" ry="18" fill="#45c935" opacity="1"/><ellipse cx="1289" cy="161.5" rx="5.5" ry="17.5" fill="#2e88c4" opacity="1"/><ellipse cx="1323.7" cy="141" rx="6" ry="16" fill="#2aaee0" opacity="1"/><ellipse cx="1323.7" cy="170" rx="6" ry="28" fill="#2a7d1e" opacity="1"/><ellipse cx="1361" cy="173" rx="8" ry="25" fill="#2e9fd6" opacity="1"/><ellipse cx="1362" cy="185" rx="5.5" ry="12" fill="#55f53c" opacity="1"/><path d="M1102,206 L1102,172 Q1110,163 1122,164 L1138,164 Q1143,170 1144,180 L1144,206 Z" fill="#2e88c4"/><ellipse cx="1112" cy="194" rx="5" ry="12" fill="#4cdc38" opacity="1"/><ellipse cx="1126" cy="190" rx="4" ry="14" fill="#55f53c" opacity="1"/><ellipse cx="1136" cy="186" rx="3" ry="10" fill="#3fbf2f" opacity="1"/><ellipse cx="1150" cy="181" rx="4.5" ry="12" fill="#4cdc38" opacity="1"/><ellipse cx="1156.5" cy="192" rx="4" ry="13" fill="#3a70aa" opacity="1"/><ellipse cx="1169" cy="167" rx="4.5" ry="12" fill="#2e9fd6" opacity="1"/><ellipse cx="1054.5" cy="202.5" rx="3" ry="8" fill="#3a70aa" opacity="1"/></g>
<g fill="#fff"><rect x="21" y="113.6" width="1547" height="1.6"/><rect x="21" y="165.6" width="1547" height="1.6"/></g>
<g class="sans" font-size="23" fill="#fff"><text x="20.5" y="86" textLength="68" lengthAdjust="spacingAndGlyphs">15 km</text><text x="20.5" y="138" textLength="68" lengthAdjust="spacingAndGlyphs">10 km</text><text x="20" y="189.5" textLength="55" lengthAdjust="spacingAndGlyphs">5 km</text></g>
<rect x="19" y="218" width="1552" height="1541.5" fill="#000"/>
<rect x="21" y="220" width="1547" height="1537.5" fill="#1b1b1b"/>
<g clip-path="url(#cmap)">
<clipPath id="cblob"><path d="M559.5,887.1 L562.6,877.7 L568.9,865.2 L567.3,849.5 L578.2,830.8 L593.9,827.6 L609.5,830.8 L625.2,833.9 L637.7,827.6 L648.7,813.6 L672.1,812.0 L687.8,805.7 L703.4,796.3 L726.9,802.6 L742.6,791.6 L766.0,785.4 L780.0,785.4 L789.4,772.9 L801.9,761.9 L806.6,749.4 L820.7,769.7 L837.9,782.3 L855.1,799.5 L847.3,813.6 L866.1,821.4 L881.7,826.1 L880.2,841.7 L889.5,855.8 L909.9,858.9 L920.8,866.8 L936.5,880.8 L960.0,904.3 L983.4,912.1 L999.1,905.9 L1006.9,927.8 L1014.7,935.6 L1016.3,949.7 L1024.1,966.9 L1027.3,982.6 L1024.1,1003.5 L1010.0,1008.2 L1005.4,1020.7 L999.1,1030.1 L1005.4,1048.9 L996.0,1061.4 L996.0,1081.7 L996.0,1108.3 L977.2,1113.0 L953.7,1120.8 L953.7,1136.5 L945.9,1152.1 L928.7,1142.8 L905.2,1152.1 L883.3,1152.1 L867.6,1160.0 L847.3,1164.7 L830.1,1167.8 L811.3,1167.8 L798.8,1177.2 L780.0,1180.3 L778.6,1202.6 L734.7,1201.0 L703.4,1210.4 L672.1,1216.7 L656.5,1222.9 L633.0,1216.7 L609.5,1215.1 L581.4,1213.5 L567.3,1204.1 L565.7,1182.2 L551.6,1166.6 L556.3,1147.8 L559.5,1140.0 L554.8,1116.5 L539.1,1121.2 L523.5,1132.1 L520.3,1107.1 L525.0,1093.0 L523.5,1074.2 L534.4,1069.5 L536.0,1047.6 L540.7,1028.9 L551.6,1025.7 L559.5,1003.8 L593.9,1000.0 L603.0,1000.0 L603.0,975.0 L596.0,962.0 L593.0,955.0 L560.0,950.0 L559.0,930.0 L592.0,936.0 L574.0,913.0 L559.0,905.0 Z"/></clipPath>
<path d="M559.5,887.1 L562.6,877.7 L568.9,865.2 L567.3,849.5 L578.2,830.8 L593.9,827.6 L609.5,830.8 L625.2,833.9 L637.7,827.6 L648.7,813.6 L672.1,812.0 L687.8,805.7 L703.4,796.3 L726.9,802.6 L742.6,791.6 L766.0,785.4 L780.0,785.4 L789.4,772.9 L801.9,761.9 L806.6,749.4 L820.7,769.7 L837.9,782.3 L855.1,799.5 L847.3,813.6 L866.1,821.4 L881.7,826.1 L880.2,841.7 L889.5,855.8 L909.9,858.9 L920.8,866.8 L936.5,880.8 L960.0,904.3 L983.4,912.1 L999.1,905.9 L1006.9,927.8 L1014.7,935.6 L1016.3,949.7 L1024.1,966.9 L1027.3,982.6 L1024.1,1003.5 L1010.0,1008.2 L1005.4,1020.7 L999.1,1030.1 L1005.4,1048.9 L996.0,1061.4 L996.0,1081.7 L996.0,1108.3 L977.2,1113.0 L953.7,1120.8 L953.7,1136.5 L945.9,1152.1 L928.7,1142.8 L905.2,1152.1 L883.3,1152.1 L867.6,1160.0 L847.3,1164.7 L830.1,1167.8 L811.3,1167.8 L798.8,1177.2 L780.0,1180.3 L778.6,1202.6 L734.7,1201.0 L703.4,1210.4 L672.1,1216.7 L656.5,1222.9 L633.0,1216.7 L609.5,1215.1 L581.4,1213.5 L567.3,1204.1 L565.7,1182.2 L551.6,1166.6 L556.3,1147.8 L559.5,1140.0 L554.8,1116.5 L539.1,1121.2 L523.5,1132.1 L520.3,1107.1 L525.0,1093.0 L523.5,1074.2 L534.4,1069.5 L536.0,1047.6 L540.7,1028.9 L551.6,1025.7 L559.5,1003.8 L593.9,1000.0 L603.0,1000.0 L603.0,975.0 L596.0,962.0 L593.0,955.0 L560.0,950.0 L559.0,930.0 L592.0,936.0 L574.0,913.0 L559.0,905.0 Z" fill="#386ca5"/>
<g clip-path="url(#cblob)"><path d="M540.0,1030.0 C552.0,1015.5 573.3,1008.0 600.0,1003.0 C626.7,998.0 673.3,998.8 700.0,1000.0 C726.7,1001.2 747.5,1000.0 760.0,1010.0 C772.5,1020.0 773.3,1038.3 775.0,1060.0 C776.7,1081.7 769.5,1116.7 770.0,1140.0 C770.5,1163.3 783.8,1190.0 778.0,1200.0 C772.2,1210.0 748.0,1198.7 735.0,1200.0 C722.0,1201.3 713.2,1204.7 700.0,1208.0 C686.8,1211.3 671.0,1219.2 656.0,1220.0 C641.0,1220.8 622.7,1214.7 610.0,1213.0 C597.3,1211.3 587.3,1213.8 580.0,1210.0 C572.7,1206.2 570.2,1200.0 566.0,1190.0 C561.8,1180.0 559.3,1161.7 555.0,1150.0 C550.7,1138.3 544.5,1130.0 540.0,1120.0 C535.5,1110.0 528.0,1105.0 528.0,1090.0 C528.0,1075.0 528.0,1044.5 540.0,1030.0 Z" fill="#2f84bd" opacity="0.85" filter="url(#blur6)"/>
<path d="M830.0,960.0 C841.7,941.7 878.3,934.2 900.0,930.0 C921.7,925.8 943.3,930.0 960.0,935.0 C976.7,940.0 991.7,949.2 1000.0,960.0 C1008.3,970.8 1011.7,983.3 1010.0,1000.0 C1008.3,1016.7 1000.0,1043.3 990.0,1060.0 C980.0,1076.7 965.0,1090.0 950.0,1100.0 C935.0,1110.0 916.7,1120.0 900.0,1120.0 C883.3,1120.0 861.7,1113.3 850.0,1100.0 C838.3,1086.7 833.3,1063.3 830.0,1040.0 C826.7,1016.7 818.3,978.3 830.0,960.0 Z" fill="#2f88c2" opacity="0.6" filter="url(#blur10)"/>
<rect x="515" y="745" width="515" height="480" filter="url(#texL)"/><rect x="515" y="745" width="515" height="480" filter="url(#texD)"/></g>
<clipPath id="cedge"><path d="M640,760 L820,730 L1060,900 L1060,1200 L780,1200 L780,1160 L990,1100 L990,990 L900,900 L800,820 L640,840 Z"/></clipPath><g clip-path="url(#cedge)"><path d="M559.5,887.1 L562.6,877.7 L568.9,865.2 L567.3,849.5 L578.2,830.8 L593.9,827.6 L609.5,830.8 L625.2,833.9 L637.7,827.6 L648.7,813.6 L672.1,812.0 L687.8,805.7 L703.4,796.3 L726.9,802.6 L742.6,791.6 L766.0,785.4 L780.0,785.4 L789.4,772.9 L801.9,761.9 L806.6,749.4 L820.7,769.7 L837.9,782.3 L855.1,799.5 L847.3,813.6 L866.1,821.4 L881.7,826.1 L880.2,841.7 L889.5,855.8 L909.9,858.9 L920.8,866.8 L936.5,880.8 L960.0,904.3 L983.4,912.1 L999.1,905.9 L1006.9,927.8 L1014.7,935.6 L1016.3,949.7 L1024.1,966.9 L1027.3,982.6 L1024.1,1003.5 L1010.0,1008.2 L1005.4,1020.7 L999.1,1030.1 L1005.4,1048.9 L996.0,1061.4 L996.0,1081.7 L996.0,1108.3 L977.2,1113.0 L953.7,1120.8 L953.7,1136.5 L945.9,1152.1 L928.7,1142.8 L905.2,1152.1 L883.3,1152.1 L867.6,1160.0 L847.3,1164.7 L830.1,1167.8 L811.3,1167.8 L798.8,1177.2 L780.0,1180.3 L778.6,1202.6 L734.7,1201.0 L703.4,1210.4 L672.1,1216.7 L656.5,1222.9 L633.0,1216.7 L609.5,1215.1 L581.4,1213.5 L567.3,1204.1 L565.7,1182.2 L551.6,1166.6 L556.3,1147.8 L559.5,1140.0 L554.8,1116.5 L539.1,1121.2 L523.5,1132.1 L520.3,1107.1 L525.0,1093.0 L523.5,1074.2 L534.4,1069.5 L536.0,1047.6 L540.7,1028.9 L551.6,1025.7 L559.5,1003.8 L593.9,1000.0 L603.0,1000.0 L603.0,975.0 L596.0,962.0 L593.0,955.0 L560.0,950.0 L559.0,930.0 L592.0,936.0 L574.0,913.0 L559.0,905.0 Z" fill="none" stroke="#3a6ea6" stroke-width="14" mask="url(#mS)"/></g><g clip-path="url(#cblob)"><g clip-path="url(#cedge)"><path d="M559.5,887.1 L562.6,877.7 L568.9,865.2 L567.3,849.5 L578.2,830.8 L593.9,827.6 L609.5,830.8 L625.2,833.9 L637.7,827.6 L648.7,813.6 L672.1,812.0 L687.8,805.7 L703.4,796.3 L726.9,802.6 L742.6,791.6 L766.0,785.4 L780.0,785.4 L789.4,772.9 L801.9,761.9 L806.6,749.4 L820.7,769.7 L837.9,782.3 L855.1,799.5 L847.3,813.6 L866.1,821.4 L881.7,826.1 L880.2,841.7 L889.5,855.8 L909.9,858.9 L920.8,866.8 L936.5,880.8 L960.0,904.3 L983.4,912.1 L999.1,905.9 L1006.9,927.8 L1014.7,935.6 L1016.3,949.7 L1024.1,966.9 L1027.3,982.6 L1024.1,1003.5 L1010.0,1008.2 L1005.4,1020.7 L999.1,1030.1 L1005.4,1048.9 L996.0,1061.4 L996.0,1081.7 L996.0,1108.3 L977.2,1113.0 L953.7,1120.8 L953.7,1136.5 L945.9,1152.1 L928.7,1142.8 L905.2,1152.1 L883.3,1152.1 L867.6,1160.0 L847.3,1164.7 L830.1,1167.8 L811.3,1167.8 L798.8,1177.2 L780.0,1180.3 L778.6,1202.6 L734.7,1201.0 L703.4,1210.4 L672.1,1216.7 L656.5,1222.9 L633.0,1216.7 L609.5,1215.1 L581.4,1213.5 L567.3,1204.1 L565.7,1182.2 L551.6,1166.6 L556.3,1147.8 L559.5,1140.0 L554.8,1116.5 L539.1,1121.2 L523.5,1132.1 L520.3,1107.1 L525.0,1093.0 L523.5,1074.2 L534.4,1069.5 L536.0,1047.6 L540.7,1028.9 L551.6,1025.7 L559.5,1003.8 L593.9,1000.0 L603.0,1000.0 L603.0,975.0 L596.0,962.0 L593.0,955.0 L560.0,950.0 L559.0,930.0 L592.0,936.0 L574.0,913.0 L559.0,905.0 Z" fill="none" stroke="#1b1b1b" stroke-width="34" mask="url(#mH)"/></g><path d="M800.0,760.0 C810.8,761.7 843.3,775.0 860.0,790.0 C876.7,805.0 883.3,833.3 900.0,850.0 C916.7,866.7 943.3,880.8 960.0,890.0 C976.7,899.2 990.8,896.7 1000.0,905.0 C1009.2,913.3 1015.0,935.8 1015.0,940.0 C1015.0,944.2 1009.2,934.2 1000.0,930.0 C990.8,925.8 973.3,921.7 960.0,915.0 C946.7,908.3 933.3,899.2 920.0,890.0 C906.7,880.8 891.7,870.0 880.0,860.0 C868.3,850.0 860.0,840.0 850.0,830.0 C840.0,820.0 829.2,808.3 820.0,800.0 C810.8,791.7 798.3,786.7 795.0,780.0 C791.7,773.3 789.2,758.3 800.0,760.0 Z" fill="#1b1b1b" mask="url(#mH)"/></g>
<path d="M559.0,893.0 L575.0,895.0 L650.0,934.0 L600.0,921.0 L573.0,914.0 L559.0,906.0 Z" fill="#1b1b1b"/>
<path d="M559.0,930.0 L585.0,936.0 L660.0,957.0 L592.0,955.0 L560.0,951.0 Z" fill="#1b1b1b"/>
<path d="M560.0,976.0 L603.0,975.0 L700.0,985.0 L693.0,992.0 L603.0,1000.0 L560.0,1000.0 Z" fill="#1b1b1b"/>
<circle cx="943.5" cy="469.4" r="5.5" fill="#236e1f"/><circle cx="951.7" cy="472.6" r="5" fill="#3fbf2f"/><circle cx="954.6" cy="464" r="6" fill="#4cdc38"/><ellipse cx="817.7" cy="602" rx="7" ry="5" fill="#2e8ec6"/><ellipse cx="813.6" cy="617" rx="4.5" ry="3.5" fill="#3478b0"/><ellipse cx="813.6" cy="626" rx="4.5" ry="3.5" fill="#3478b0"/><rect x="810" y="633" width="12" height="6" fill="#3478b0"/><ellipse cx="816" cy="669.5" rx="3.5" ry="3" fill="#3478b0"/><rect x="873" y="657" width="13" height="7.5" fill="#3478b0"/><ellipse cx="703.4" cy="624.5" rx="3.5" ry="4" fill="#2e8ec6"/><circle cx="1016.7" cy="767.1" r="3.5" fill="#3478b0"/><circle cx="1156.5" cy="763" r="4.5" fill="#2e8ec6"/><circle cx="1112" cy="799" r="4.5" fill="#2e8ec6"/><circle cx="1119" cy="793" r="5" fill="#2e8ec6"/><circle cx="1127" cy="790" r="5" fill="#2aa6d8"/><circle cx="1134" cy="796" r="5" fill="#2e8ec6"/><circle cx="1140" cy="804" r="4" fill="#2e8ec6"/><circle cx="1136" cy="806" r="3.5" fill="#3478b0"/><ellipse cx="1119" cy="796" rx="3" ry="5" fill="#4cdc38"/><ellipse cx="1129.4" cy="795.3" rx="2.5" ry="4" fill="#4cdc38"/><circle cx="1288" cy="892.3" r="4" fill="#2e8ec6"/><rect x="1318.5" y="928" width="11" height="10" fill="#2e8ec6"/><rect x="1318.5" y="938" width="11" height="8" fill="#2aa6d8"/><rect x="1318.5" y="946" width="11" height="10" fill="#4cdc38"/><rect x="1318.5" y="956" width="11" height="9" fill="#3aa82a"/><rect x="1319" y="965" width="10" height="18" fill="#236e1f"/><ellipse cx="1360.5" cy="973.5" rx="8" ry="10" fill="#2e8ec6"/><ellipse cx="1361" cy="970" rx="5" ry="6" fill="#4cdc38"/><ellipse cx="1138.8" cy="967.4" rx="3.5" ry="6" fill="#2e8ec6"/><ellipse cx="1149.2" cy="964" rx="3.5" ry="3" fill="#4cdc38"/><ellipse cx="1149.2" cy="969.5" rx="3.5" ry="3" fill="#2aa6d8"/><ellipse cx="1169" cy="959" rx="4" ry="7" fill="#3478b0"/><ellipse cx="1110.3" cy="1204.2" rx="7" ry="6" fill="#2aa6d8"/><ellipse cx="1113" cy="1202" rx="3" ry="3" fill="#4cdc38"/><rect x="971" y="1294.5" width="6.5" height="6.5" fill="#3478b0"/><circle cx="1230.5" cy="1316" r="5" fill="#2e8ec6"/><circle cx="1236.3" cy="1319.4" r="5.5" fill="#3fbf2f"/><circle cx="599.1" cy="1445.3" r="4.5" fill="#2e8ec6"/><ellipse cx="738.7" cy="1447.4" rx="12.5" ry="11.5" fill="#2aa6d8"/><rect x="731" y="1442" width="12" height="14" fill="#4cdc38"/><rect x="731" y="1448" width="6" height="8" fill="#2f9a26"/><circle cx="535.2" cy="1595.3" r="7" fill="#55f53c"/><circle cx="944.7" cy="1641.7" r="6.5" fill="#2aa6d8"/><circle cx="979.9" cy="1633.9" r="6.5" fill="#2e8ec6"/><circle cx="960.4" cy="1653.4" r="6" fill="#2e8ec6"/><ellipse cx="963.5" cy="1639" rx="14" ry="10" fill="#3aa82a"/><ellipse cx="963" cy="1639" rx="11" ry="7.5" fill="#e0d030"/><ellipse cx="959" cy="1640.4" rx="7" ry="3.5" fill="#d0001a"/><circle cx="578.5" cy="773.5" r="3" fill="#2aa6d8"/><circle cx="592" cy="772" r="3" fill="#2e8ec6"/><rect x="600.5" y="769.5" width="6" height="4" fill="#2e8ec6"/><rect x="564" y="809" width="5" height="3" fill="#3478b0"/><ellipse cx="453.5" cy="907" rx="3.5" ry="6" fill="#2ea0d8"/><ellipse cx="453" cy="919.5" rx="3.5" ry="6.5" fill="#3aa82a"/><rect x="842.1" y="1046.0" width="2" height="2" fill="#1b1b1b"/><rect x="867.5" y="1088.2" width="2" height="2" fill="#4cdc38"/><rect x="810.3" y="1075.9" width="2" height="2" fill="#55f53c"/><rect x="864.8" y="1123.0" width="2" height="2" fill="#1b1b1b"/><rect x="839.3" y="1050.5" width="2" height="2" fill="#3fbf2f"/><rect x="841.4" y="1137.8" width="2" height="2" fill="#1b1b1b"/><rect x="852.5" y="1107.3" width="2" height="2" fill="#4cdc38"/><rect x="869.8" y="992.1" width="2" height="2" fill="#4cdc38"/><rect x="886.6" y="1120.9" width="2" height="2" fill="#e0e034"/><rect x="846.0" y="1102.8" width="2" height="2" fill="#1b1b1b"/><rect x="808.8" y="1058.4" width="2" height="2" fill="#3fbf2f"/><rect x="864.2" y="1130.0" width="2" height="2" fill="#4cdc38"/><rect x="865.1" y="1027.6" width="2" height="2" fill="#1b1b1b"/><rect x="845.7" y="1113.5" width="2" height="2" fill="#e0e034"/><rect x="859.8" y="1073.1" width="2" height="2" fill="#1b1b1b"/><rect x="815.9" y="1138.3" width="2" height="2" fill="#e0e034"/><rect x="872.8" y="1011.9" width="2" height="2" fill="#2aa6d8"/><rect x="838.1" y="1144.2" width="2" height="2" fill="#4cdc38"/><rect x="836.6" y="1122.2" width="2" height="2" fill="#e0e034"/><rect x="825.2" y="1032.0" width="2" height="2" fill="#4cdc38"/><rect x="808.8" y="1064.8" width="2" height="2" fill="#2aa6d8"/><rect x="843.5" y="1117.1" width="2" height="2" fill="#1b1b1b"/><rect x="843.5" y="1055.5" width="2" height="2" fill="#1b1b1b"/><rect x="837.3" y="1129.0" width="2" height="2" fill="#4cdc38"/><rect x="810.6" y="1047.3" width="2" height="2" fill="#2aa6d8"/><rect x="817.2" y="1075.9" width="2" height="2" fill="#e0e034"/><rect x="837.3" y="997.7" width="2" height="2" fill="#4cdc38"/><rect x="895.7" y="1033.1" width="2" height="2" fill="#e0e034"/><rect x="821.5" y="1010.8" width="2" height="2" fill="#4cdc38"/><rect x="859.9" y="1044.4" width="2" height="2" fill="#3fbf2f"/><rect x="837.5" y="1132.9" width="2" height="2" fill="#1b1b1b"/><rect x="808.2" y="1048.7" width="2" height="2" fill="#4cdc38"/><rect x="871.1" y="1087.3" width="2" height="2" fill="#e0e034"/><rect x="808.1" y="1024.2" width="2" height="2" fill="#e0e034"/><rect x="854.7" y="1057.2" width="2" height="2" fill="#e0e034"/><rect x="812.5" y="986.9" width="2" height="2" fill="#1b1b1b"/><rect x="836.3" y="1147.9" width="2" height="2" fill="#2aa6d8"/><rect x="870.2" y="1089.3" width="2" height="2" fill="#4cdc38"/><rect x="843.8" y="1089.5" width="2" height="2" fill="#2aa6d8"/><rect x="807.6" y="1043.2" width="2" height="2" fill="#e0e034"/><rect x="847.0" y="1106.8" width="2" height="2" fill="#4cdc38"/><rect x="810.8" y="1045.9" width="2" height="2" fill="#1b1b1b"/><rect x="831.0" y="1014.3" width="2" height="2" fill="#3fbf2f"/><rect x="868.5" y="1036.6" width="2" height="2" fill="#2aa6d8"/><rect x="849.6" y="1114.9" width="2" height="2" fill="#4cdc38"/><rect x="825.7" y="1112.4" width="2" height="2" fill="#4cdc38"/><rect x="872.8" y="1006.7" width="2" height="2" fill="#55f53c"/><rect x="834.0" y="1092.9" width="2" height="2" fill="#e0e034"/><rect x="841.0" y="1056.8" width="2" height="2" fill="#4cdc38"/><rect x="854.1" y="1001.8" width="2" height="2" fill="#2aa6d8"/><rect x="871.3" y="1022.0" width="2" height="2" fill="#3fbf2f"/><rect x="829.6" y="998.2" width="2" height="2" fill="#55f53c"/><rect x="858.1" y="1022.1" width="2" height="2" fill="#4cdc38"/><rect x="824.1" y="990.6" width="2" height="2" fill="#55f53c"/><rect x="823.3" y="1079.8" width="2" height="2" fill="#e0e034"/><rect x="878.4" y="1041.1" width="2" height="2" fill="#4cdc38"/><rect x="847.0" y="1006.4" width="2" height="2" fill="#e0e034"/><rect x="821.0" y="1070.5" width="2" height="2" fill="#e0e034"/><rect x="809.6" y="1032.9" width="2" height="2" fill="#1b1b1b"/><rect x="846.9" y="990.9" width="2" height="2" fill="#1b1b1b"/><rect x="841.2" y="1140.6" width="2" height="2" fill="#1b1b1b"/><rect x="841.8" y="1077.2" width="2" height="2" fill="#55f53c"/><rect x="863.8" y="1109.3" width="2" height="2" fill="#e0e034"/><rect x="844.9" y="1074.7" width="2" height="2" fill="#55f53c"/><rect x="868.0" y="1145.2" width="2" height="2" fill="#4cdc38"/><rect x="806.8" y="1118.7" width="2" height="2" fill="#4cdc38"/><rect x="878.7" y="1069.5" width="2" height="2" fill="#55f53c"/><rect x="848.7" y="1132.9" width="2" height="2" fill="#1b1b1b"/><rect x="836.8" y="1108.0" width="2" height="2" fill="#3fbf2f"/><rect x="838.3" y="1068.0" width="2" height="2" fill="#55f53c"/><rect x="826.0" y="1053.3" width="2" height="2" fill="#4cdc38"/><rect x="817.1" y="1041.3" width="2" height="2" fill="#e0e034"/><rect x="867.0" y="1118.9" width="2" height="2" fill="#4cdc38"/><rect x="835.2" y="1043.1" width="2" height="2" fill="#55f53c"/><rect x="873.1" y="1004.7" width="2" height="2" fill="#55f53c"/><rect x="872.0" y="1115.6" width="2" height="2" fill="#3fbf2f"/><rect x="841.2" y="1088.7" width="2" height="2" fill="#1b1b1b"/><rect x="837.6" y="993.2" width="2" height="2" fill="#e0e034"/><rect x="840.3" y="1070.7" width="2" height="2" fill="#4cdc38"/><rect x="870.5" y="1063.0" width="2" height="2" fill="#4cdc38"/><rect x="863.7" y="992.6" width="2" height="2" fill="#4cdc38"/><rect x="810.3" y="996.3" width="2" height="2" fill="#4cdc38"/><rect x="845.7" y="1067.8" width="2" height="2" fill="#2aa6d8"/><rect x="832.6" y="1010.9" width="2" height="2" fill="#4cdc38"/><rect x="821.1" y="1081.8" width="2" height="2" fill="#2aa6d8"/><rect x="865.5" y="1028.7" width="2" height="2" fill="#2aa6d8"/><rect x="829.6" y="985.6" width="2" height="2" fill="#1b1b1b"/><rect x="845.0" y="1116.2" width="2" height="2" fill="#3fbf2f"/><rect x="863.6" y="1092.3" width="2" height="2" fill="#1b1b1b"/><rect x="846.5" y="1090.1" width="2" height="2" fill="#4cdc38"/><rect x="823.3" y="1046.4" width="2" height="2" fill="#1b1b1b"/><rect x="823.7" y="1110.4" width="2" height="2" fill="#2aa6d8"/><rect x="810.3" y="1061.0" width="2" height="2" fill="#55f53c"/><rect x="856.2" y="1021.1" width="2" height="2" fill="#e0e034"/><rect x="837.1" y="1055.1" width="2" height="2" fill="#1b1b1b"/><rect x="832.0" y="1006.5" width="2" height="2" fill="#4cdc38"/><rect x="859.6" y="1133.1" width="2" height="2" fill="#e0e034"/><rect x="831.7" y="1005.0" width="2" height="2" fill="#4cdc38"/><rect x="873.1" y="1125.2" width="2" height="2" fill="#1b1b1b"/><rect x="826.7" y="1095.1" width="2" height="2" fill="#2aa6d8"/><rect x="830.6" y="1082.0" width="2" height="2" fill="#4cdc38"/><rect x="836.0" y="1063.1" width="2" height="2" fill="#55f53c"/><rect x="841.0" y="1000.1" width="2" height="2" fill="#4cdc38"/><rect x="833.5" y="1093.8" width="2" height="2" fill="#1b1b1b"/><rect x="842.1" y="1123.9" width="2" height="2" fill="#4cdc38"/><rect x="844.3" y="989.2" width="2" height="2" fill="#4cdc38"/><rect x="820.7" y="1142.1" width="2" height="2" fill="#e0e034"/><rect x="876.6" y="1069.4" width="2" height="2" fill="#55f53c"/><rect x="848.5" y="1002.6" width="2" height="2" fill="#4cdc38"/><rect x="847.2" y="1038.5" width="2" height="2" fill="#3fbf2f"/><rect x="836.9" y="1121.6" width="2" height="2" fill="#55f53c"/><rect x="871.7" y="1059.9" width="2" height="2" fill="#1b1b1b"/><rect x="839.7" y="1026.7" width="2" height="2" fill="#1b1b1b"/><rect x="866.0" y="1144.4" width="2" height="2" fill="#1b1b1b"/><rect x="829.5" y="1067.6" width="2" height="2" fill="#1b1b1b"/><rect x="871.9" y="1053.5" width="2" height="2" fill="#1b1b1b"/><rect x="866.8" y="1067.2" width="2" height="2" fill="#1b1b1b"/><rect x="863.0" y="1058.1" width="2" height="2" fill="#3fbf2f"/><rect x="826.7" y="1007.5" width="2" height="2" fill="#55f53c"/><rect x="856.0" y="1139.2" width="2" height="2" fill="#e0e034"/><rect x="861.1" y="1095.8" width="2" height="2" fill="#1b1b1b"/><rect x="815.9" y="1147.3" width="2" height="2" fill="#55f53c"/><rect x="823.6" y="1035.7" width="2" height="2" fill="#e0e034"/><rect x="818.6" y="1013.4" width="2" height="2" fill="#2aa6d8"/><rect x="842.8" y="1024.4" width="2" height="2" fill="#1b1b1b"/><rect x="841.9" y="1148.6" width="2" height="2" fill="#1b1b1b"/><rect x="827.9" y="1100.7" width="2" height="2" fill="#55f53c"/><rect x="848.3" y="1076.9" width="2" height="2" fill="#1b1b1b"/><rect x="848.5" y="1141.3" width="2" height="2" fill="#4cdc38"/><rect x="839.6" y="1062.1" width="2" height="2" fill="#55f53c"/><rect x="793.5" y="1078.3" width="2" height="2" fill="#1b1b1b"/><rect x="744.2" y="1039.6" width="2" height="2" fill="#3fbf2f"/><rect x="754.5" y="1037.1" width="2" height="2" fill="#3fbf2f"/><rect x="748.2" y="1076.0" width="2" height="2" fill="#1b1b1b"/><rect x="791.5" y="1101.0" width="2" height="2" fill="#3fbf2f"/><rect x="750.2" y="1024.1" width="2" height="2" fill="#4cdc38"/><rect x="765.4" y="1085.6" width="2" height="2" fill="#4cdc38"/><rect x="747.1" y="1043.8" width="2" height="2" fill="#3fbf2f"/><rect x="742.2" y="1060.7" width="2" height="2" fill="#1b1b1b"/><rect x="780.5" y="1020.6" width="2" height="2" fill="#3fbf2f"/><rect x="759.9" y="1054.2" width="2" height="2" fill="#4cdc38"/><rect x="752.6" y="1072.7" width="2" height="2" fill="#3fbf2f"/><rect x="763.5" y="1069.0" width="2" height="2" fill="#4cdc38"/><rect x="793.0" y="1026.9" width="2" height="2" fill="#3fbf2f"/><rect x="746.8" y="1099.8" width="2" height="2" fill="#3fbf2f"/><rect x="745.8" y="1104.7" width="2" height="2" fill="#3fbf2f"/><rect x="780.7" y="1053.2" width="2" height="2" fill="#3fbf2f"/><rect x="757.7" y="1080.8" width="2" height="2" fill="#1b1b1b"/><rect x="796.7" y="1093.6" width="2" height="2" fill="#4cdc38"/><rect x="785.3" y="1106.5" width="2" height="2" fill="#1b1b1b"/><rect x="774.0" y="1067.3" width="2" height="2" fill="#1b1b1b"/><rect x="769.6" y="1051.7" width="2" height="2" fill="#1b1b1b"/><rect x="757.7" y="1085.5" width="2" height="2" fill="#1b1b1b"/><rect x="750.9" y="1078.1" width="2" height="2" fill="#1b1b1b"/><rect x="749.0" y="1053.4" width="2" height="2" fill="#1b1b1b"/><rect x="767.3" y="1029.7" width="2" height="2" fill="#1b1b1b"/><rect x="748.5" y="1049.8" width="2" height="2" fill="#1b1b1b"/><rect x="779.0" y="1057.8" width="2" height="2" fill="#3fbf2f"/><rect x="778.8" y="1061.2" width="2" height="2" fill="#3fbf2f"/><rect x="786.9" y="1083.5" width="2" height="2" fill="#4cdc38"/><rect x="783.0" y="1087.9" width="2" height="2" fill="#1b1b1b"/><rect x="774.6" y="1055.3" width="2" height="2" fill="#4cdc38"/><rect x="756.0" y="1054.5" width="2" height="2" fill="#4cdc38"/><rect x="742.5" y="1065.4" width="2" height="2" fill="#4cdc38"/><rect x="781.7" y="1066.3" width="2" height="2" fill="#3fbf2f"/><rect x="796.7" y="1060.3" width="2" height="2" fill="#4cdc38"/><rect x="761.2" y="1096.2" width="2" height="2" fill="#4cdc38"/><rect x="749.1" y="1073.1" width="2" height="2" fill="#1b1b1b"/><rect x="746.8" y="1090.1" width="2" height="2" fill="#1b1b1b"/><rect x="746.7" y="1082.8" width="2" height="2" fill="#1b1b1b"/><rect x="816" y="990" width="3" height="2" fill="#ec1030"/><rect x="838" y="1140" width="3" height="2" fill="#ec1030"/><rect x="818" y="1000" width="3" height="2" fill="#e0e034"/><rect x="866" y="1002" width="2.5" height="2" fill="#e0e034"/><path d="M641.0,742.4 C641.4,746.9 643.7,752.6 643.3,769.1 C642.9,785.6 639.6,824.1 638.6,841.4 C637.6,858.7 638.0,862.4 637.0,872.9 C636.0,883.4 633.2,894.9 632.3,904.3 C631.4,913.7 628.8,924.3 631.5,929.5 C634.2,934.7 645.9,933.4 648.8,935.7 C651.7,938.1 650.0,936.3 648.8,943.6 C647.6,950.9 643.1,973.0 641.7,979.7 C640.3,986.4 640.5,983.0 640.2,983.7" fill="none" stroke="#878787" stroke-width="2.8" stroke-linejoin="round" stroke-linecap="round" />
<path d="M648.8,943.6 C639.5,943.6 607.8,944.7 593.0,943.6 C578.2,942.5 565.6,937.4 560.0,937.3 C554.4,937.1 560.8,942.3 559.1,942.7 C557.4,943.1 554.2,937.9 549.7,939.5 C545.2,941.1 537.4,951.4 532.4,952.1 C527.4,952.9 523.7,945.8 520.0,944.0 C516.3,942.2 514.9,940.5 510.4,941.1 C505.9,941.7 496.0,946.4 493.1,947.4" fill="none" stroke="#878787" stroke-width="2.8" stroke-linejoin="round" stroke-linecap="round" />
<path d="M640.2,983.7 C649.4,983.7 685.8,986.5 695.2,983.7 C704.6,981.0 691.3,970.0 696.7,967.2 C702.1,964.5 722.3,965.1 727.4,967.2 C732.5,969.3 722.6,977.6 727.4,979.7 C732.2,981.8 751.4,975.1 756.4,979.7 C761.4,984.3 754.9,1002.7 757.2,1007.5 C759.6,1012.3 769.5,1005.5 770.5,1008.3 C771.5,1011.0 761.9,1017.2 763.4,1024.0 C764.9,1030.8 776.6,1044.9 779.2,1049.1" fill="none" stroke="#878787" stroke-width="2.8" stroke-linejoin="round" stroke-linecap="round" />
<path d="M640.2,983.7 C637.8,983.8 629.5,984.1 626.0,984.5 C622.5,984.9 620.9,985.4 618.9,986.3 C616.9,987.2 615.2,988.5 614.0,990.0 C612.8,991.5 612.2,974.6 611.9,995.0 C611.5,1015.4 611.9,1093.0 611.9,1112.6" fill="none" stroke="#878787" stroke-width="2.8" stroke-linejoin="round" stroke-linecap="round" />
<path d="M471.0,1050.0 C473.3,1052.2 480.3,1059.8 485.0,1063.0 C489.7,1066.2 492.6,1069.0 499.2,1068.9 C505.8,1068.8 514.9,1063.1 524.3,1062.6 C533.7,1062.1 545.2,1065.2 555.6,1065.7 C566.0,1066.2 577.5,1066.2 586.9,1065.7 C596.3,1065.2 607.7,1063.1 611.9,1062.6" fill="none" stroke="#878787" stroke-width="2.8" stroke-linejoin="round" stroke-linecap="round" />
<path d="M611.9,1112.6 C604.6,1116.8 577.5,1131.4 568.1,1137.7 C558.7,1144.0 562.4,1143.4 555.6,1150.2 C548.8,1157.0 531.0,1172.4 527.4,1178.4 C523.8,1184.4 535.3,1182.6 533.7,1186.2 C532.1,1189.8 520.6,1196.7 518.0,1200.3 C515.4,1203.9 520.1,1205.4 518.0,1208.0 C515.9,1210.6 510.2,1213.4 505.5,1216.0 C500.8,1218.6 499.5,1239.5 489.9,1223.8 C480.2,1208.1 454.7,1139.0 447.6,1122.1" fill="none" stroke="#878787" stroke-width="2.8" stroke-linejoin="round" stroke-linecap="round" />
<path d="M611.9,1112.6 C615.8,1114.0 632.7,1118.2 635.4,1121.2 C638.1,1124.2 631.0,1128.8 628.3,1130.9 C625.5,1133.0 621.5,1131.3 618.9,1134.0 C616.3,1136.7 612.4,1141.8 612.7,1147.0 C613.0,1152.2 614.2,1164.5 620.5,1165.0 C626.8,1165.5 644.5,1150.4 650.2,1150.1 C655.9,1149.8 652.8,1158.6 654.9,1163.4 C657.0,1168.2 660.2,1173.9 662.8,1179.1 C665.4,1184.3 666.4,1189.8 670.6,1194.7 C674.8,1199.7 684.4,1203.6 687.8,1208.8 C691.2,1214.0 689.8,1219.6 690.9,1226.0 C692.0,1232.4 691.1,1242.1 694.3,1247.2 C697.5,1252.3 704.8,1254.5 710.0,1256.6 C715.2,1258.7 722.6,1255.8 725.7,1259.7 C728.9,1263.6 727.4,1275.8 728.9,1280.0 C730.4,1284.2 734.0,1284.2 735.0,1285.0" fill="none" stroke="#878787" stroke-width="2.8" stroke-linejoin="round" stroke-linecap="round" />
<path d="M489.9,1223.8 C487.8,1224.6 479.9,1229.8 477.3,1228.5 C474.7,1227.2 476.8,1218.1 474.2,1216.0 C471.6,1213.9 462.7,1209.8 461.7,1216.0 C460.7,1222.2 468.5,1247.2 468.0,1253.5 C467.5,1259.8 461.2,1256.1 458.6,1253.5 C456.0,1250.9 455.4,1241.0 452.3,1237.9 C449.2,1234.8 445.0,1235.8 439.8,1234.7 C434.6,1233.7 424.1,1227.9 421.0,1231.6 C417.9,1235.2 425.2,1249.8 421.0,1256.6 C416.8,1263.4 402.3,1271.8 396.0,1272.3 C389.7,1272.8 389.7,1262.1 383.4,1259.8 C377.1,1257.5 365.7,1258.5 358.4,1258.2 C351.1,1257.9 344.8,1261.6 339.6,1258.2 C334.4,1254.8 330.2,1242.9 327.1,1237.9 C324.0,1233.0 321.9,1230.1 320.8,1228.5" fill="none" stroke="#878787" stroke-width="2.8" stroke-linejoin="round" stroke-linecap="round" />
<path d="M505.5,1216.0 C509.1,1224.6 521.4,1259.0 527.4,1267.6 C533.4,1276.2 538.9,1264.2 541.5,1267.6 C544.1,1271.0 544.4,1278.9 543.1,1288.0 C541.8,1297.1 526.9,1318.0 533.7,1322.4 C540.5,1326.8 574.9,1313.0 583.8,1314.6 C592.7,1316.2 584.3,1325.3 586.9,1331.8 C589.5,1338.3 596.8,1346.4 599.4,1353.7 C602.0,1361.0 602.0,1371.9 602.5,1375.6" fill="none" stroke="#878787" stroke-width="2.8" stroke-linejoin="round" stroke-linecap="round" />
<path d="M533.7,1322.4 C530.6,1323.7 519.6,1333.3 514.9,1330.2 C510.2,1327.1 506.8,1309.9 505.5,1303.6 C504.2,1297.3 512.3,1294.4 507.1,1292.6 C501.9,1290.8 478.9,1289.7 474.2,1292.6 C469.5,1295.5 485.1,1304.9 478.9,1309.9 C472.6,1314.9 443.2,1316.7 436.7,1322.4 C430.2,1328.1 438.8,1336.5 439.8,1344.3 C440.8,1352.1 447.6,1366.9 442.9,1369.3 C438.2,1371.7 424.1,1368.3 411.6,1358.4 C399.1,1348.5 375.1,1318.0 367.8,1309.9" fill="none" stroke="#878787" stroke-width="2.8" stroke-linejoin="round" stroke-linecap="round" />
<path d="M356.8,1258.2 C356.8,1265.2 358.6,1292.4 356.8,1300.5 C355.0,1308.6 347.7,1301.0 345.9,1306.7 C344.1,1312.4 352.7,1327.1 345.9,1334.9 C339.1,1342.7 312.5,1346.4 305.2,1353.7 C297.9,1361.0 313.6,1366.7 302.1,1378.7 C290.6,1390.7 251.4,1417.4 236.3,1425.7 C221.2,1434.0 215.5,1428.3 211.3,1428.8" fill="none" stroke="#878787" stroke-width="2.8" stroke-linejoin="round" stroke-linecap="round" />
<path d="M227.0,1334.9 C229.1,1337.0 237.4,1342.7 239.5,1347.4 C241.6,1352.1 236.9,1358.9 239.5,1363.1 C242.1,1367.3 248.3,1370.4 255.1,1372.5 C261.9,1374.6 272.4,1374.6 280.2,1375.6 C288.0,1376.6 298.5,1378.2 302.1,1378.7" fill="none" stroke="#878787" stroke-width="2.8" stroke-linejoin="round" stroke-linecap="round" />
<path d="M411.6,1358.4 C413.7,1366.5 421.0,1393.6 424.1,1406.9 C427.2,1420.2 429.3,1433.0 430.4,1438.2" fill="none" stroke="#878787" stroke-width="2.8" stroke-linejoin="round" stroke-linecap="round" />
<path d="M140.0,1391.8 C140.4,1394.1 140.6,1402.1 142.3,1405.6 C144.0,1409.0 149.2,1407.9 150.3,1412.5 C151.5,1417.1 150.3,1428.9 149.2,1433.1 C148.0,1437.3 143.8,1436.5 143.4,1437.7 C143.0,1438.9 142.9,1439.0 146.9,1440.0 C150.9,1441.0 163.7,1441.9 167.5,1443.4 C171.3,1444.9 167.5,1449.0 169.8,1449.2 C172.1,1449.4 178.2,1443.4 181.3,1444.6 C184.4,1445.8 184.8,1453.4 188.2,1456.1 C191.6,1458.8 199.5,1456.5 202.0,1460.7 C204.5,1464.9 205.8,1477.5 203.1,1481.3 C200.4,1485.1 188.4,1481.3 185.9,1483.6 C183.4,1485.9 189.7,1492.8 188.2,1495.1 C186.7,1497.4 179.8,1499.3 176.7,1497.4 C173.6,1495.5 173.6,1486.7 169.8,1483.6 C166.0,1480.5 156.9,1477.8 153.8,1479.0 C150.8,1480.2 154.9,1487.0 151.5,1490.5 C148.1,1494.0 136.2,1498.2 133.1,1499.7" fill="none" stroke="#878787" stroke-width="2.8" stroke-linejoin="round" stroke-linecap="round" />
<path d="M202.0,1479.0 C208.1,1479.4 232.8,1477.8 238.7,1481.3 C244.6,1484.8 229.5,1495.5 237.5,1499.7 C245.5,1503.9 276.0,1508.5 286.9,1506.6 C297.8,1504.7 295.7,1490.7 303.0,1488.2 C310.3,1485.7 324.4,1493.1 330.5,1491.6 C336.6,1490.1 338.6,1485.7 339.7,1479.0 C340.8,1472.3 333.2,1456.5 337.4,1451.5 C341.6,1446.5 358.8,1448.0 364.9,1449.2 C371.0,1450.4 370.7,1452.7 374.1,1458.4 C377.6,1464.1 381.8,1477.1 385.6,1483.6 C389.4,1490.1 395.2,1495.1 397.1,1497.4" fill="none" stroke="#878787" stroke-width="2.8" stroke-linejoin="round" stroke-linecap="round" />
<path d="M236.4,1424.0 C232.6,1424.8 216.5,1426.2 213.4,1428.5 C210.3,1430.8 221.1,1433.7 218.0,1437.7 C214.9,1441.7 197.7,1448.8 195.0,1452.6 C192.3,1456.4 200.8,1459.3 202.0,1460.7" fill="none" stroke="#878787" stroke-width="2.8" stroke-linejoin="round" stroke-linecap="round" />
<path d="M337.4,1451.5 C332.8,1448.0 313.2,1435.4 309.8,1430.8 C306.4,1426.2 316.3,1426.3 316.7,1424.0 C317.1,1421.7 311.7,1418.5 312.1,1417.0 C312.5,1415.5 320.5,1416.7 319.0,1414.8 C317.5,1412.9 307.2,1408.3 303.0,1405.6 C298.8,1402.9 297.2,1400.2 293.8,1398.7 C290.4,1397.2 291.9,1392.2 282.3,1396.4 C272.7,1400.6 244.1,1419.4 236.4,1424.0" fill="none" stroke="#878787" stroke-width="2.8" stroke-linejoin="round" stroke-linecap="round" />
<path d="M229.5,1502.0 C228.0,1505.4 225.7,1512.3 220.3,1522.6 C215.0,1532.9 198.2,1557.1 197.4,1564.0 C196.6,1570.9 211.9,1562.1 215.7,1564.0 C219.5,1565.9 219.2,1570.4 220.3,1575.4 C221.5,1580.4 222.6,1588.1 222.6,1593.8 C222.6,1599.5 222.2,1605.6 220.3,1609.8 C218.4,1614.0 212.7,1617.5 211.2,1619.0" fill="none" stroke="#878787" stroke-width="2.8" stroke-linejoin="round" stroke-linecap="round" />
<path d="M280.0,1506.6 L293.8,1550.2" fill="none" stroke="#878787" stroke-width="2.8" stroke-linejoin="round" stroke-linecap="round" />
<path d="M20.7,1512.3 C23.8,1513.1 34.8,1514.4 39.0,1516.9 C43.2,1519.4 40.9,1524.7 45.9,1527.2 C50.9,1529.7 63.2,1529.9 68.9,1531.8 C74.6,1533.7 77.6,1535.6 80.3,1538.7 C83.0,1541.8 81.1,1547.9 84.9,1550.2 C88.7,1552.5 98.7,1552.9 103.3,1552.5 C107.9,1552.1 109.1,1545.6 112.5,1547.9 C115.9,1550.2 122.0,1559.3 123.9,1566.2 C125.8,1573.1 121.6,1588.8 123.9,1589.2 C126.2,1589.6 135.4,1572.0 137.7,1568.5" fill="none" stroke="#878787" stroke-width="2.8" stroke-linejoin="round" stroke-linecap="round" />
<path d="M369.5,1309.2 C376.4,1318.0 399.7,1352.0 410.8,1362.0 C421.9,1372.0 431.8,1367.8 436.0,1368.9" fill="none" stroke="#878787" stroke-width="2.8" stroke-linejoin="round" stroke-linecap="round" />
<path d="M346.6,1300.0 C346.6,1305.7 349.3,1327.9 346.6,1334.4 C343.9,1340.9 335.3,1337.2 330.5,1339.0 C325.7,1340.8 322.2,1342.3 318.0,1345.0 C313.8,1347.7 308.2,1349.6 305.3,1355.1 C302.4,1360.6 301.5,1374.2 300.7,1378.0" fill="none" stroke="#878787" stroke-width="2.8" stroke-linejoin="round" stroke-linecap="round" />
<path d="M598.3,215.0 C601.0,217.1 615.0,222.9 614.7,227.3 C614.4,231.7 601.2,237.4 596.7,241.4 C592.2,245.4 590.0,248.2 588.0,251.6 C586.0,255.0 584.9,258.3 584.9,261.8 C584.9,265.3 587.0,268.3 588.0,272.8 C589.0,277.3 588.8,283.4 591.2,288.6 C593.6,293.9 599.2,298.6 602.2,304.3 C605.2,310.1 608.5,317.1 609.3,323.1 C610.1,329.1 609.0,334.6 606.9,340.4 C604.8,346.2 599.9,352.5 596.7,357.7 C593.6,362.9 589.8,367.6 588.0,371.8 C586.2,376.0 585.7,378.4 585.7,382.8 C585.7,387.2 587.1,393.3 588.0,398.5 C588.9,403.7 590.8,409.5 591.2,414.2 C591.6,418.9 592.0,420.2 590.4,426.8 C588.8,433.4 584.3,446.2 581.8,453.5 C579.3,460.8 578.0,465.8 575.5,470.8 C573.0,475.8 569.0,478.9 566.8,483.4 C564.6,487.8 563.3,493.1 562.1,497.5 C560.9,501.9 561.1,503.6 559.8,510.0 C558.5,516.4 556.3,527.8 554.3,536.1 C552.3,544.4 549.2,553.2 548.0,559.7 C546.8,566.2 546.4,570.4 547.2,575.4 C548.0,580.4 550.7,585.0 552.7,589.5 C554.7,594.0 558.7,598.4 559.0,602.1 C559.3,605.8 556.9,608.1 554.3,611.5 C551.7,614.9 546.2,617.5 543.3,622.5 C540.4,627.5 538.8,636.7 537.0,641.4 C535.2,646.1 535.7,645.8 532.3,650.8 C528.9,655.8 521.0,664.9 516.6,671.2 C512.2,677.5 508.1,683.0 505.6,688.5 C503.1,694.0 501.9,699.0 501.6,704.2 C501.3,709.5 502.8,715.3 504.0,720.0 C505.2,724.7 508.2,727.8 508.7,732.5 C509.2,737.2 507.6,745.1 507.1,748.2 C506.6,751.4 505.9,750.9 505.6,751.4" fill="none" stroke="#c8c8c8" stroke-width="3.3" stroke-linejoin="round" stroke-linecap="round" />
<path d="M776.9,938.9 C779.2,942.0 787.6,951.7 791.0,957.7 C794.4,963.7 796.5,969.5 797.3,975.0 C798.1,980.5 797.0,986.5 795.7,990.7 C794.4,994.9 792.1,996.5 789.4,1000.0 C786.6,1003.5 781.2,1005.6 779.2,1011.4 C777.2,1017.2 778.7,1021.9 777.6,1035.0 C776.5,1048.1 775.0,1073.0 772.9,1090.0 C770.8,1107.0 764.8,1125.2 765.0,1137.0 C765.2,1148.8 771.5,1150.2 774.4,1160.7 C777.3,1171.2 782.0,1190.3 782.3,1200.0 C782.6,1209.7 780.2,1211.0 776.0,1218.9 C771.8,1226.8 762.2,1238.3 757.2,1247.2 C752.2,1256.1 748.0,1268.1 746.2,1272.3" fill="none" stroke="#c8c8c8" stroke-width="3.3" stroke-linejoin="round" stroke-linecap="round" />
<path d="M505.6,751.4 C506.9,752.6 510.6,757.8 513.5,758.9 C516.4,760.0 520.2,756.3 522.8,757.7 C525.4,759.1 526.0,765.8 529.1,767.1 C532.2,768.4 537.5,763.9 541.7,765.5 C545.9,767.1 551.7,772.8 554.3,776.5 C556.9,780.2 556.1,787.2 557.4,787.5 C558.7,787.8 560.0,781.5 562.1,778.1 C564.2,774.7 566.3,770.4 570.0,767.0 C573.7,763.6 579.8,761.3 584.1,757.7 C588.5,754.1 592.3,747.4 596.1,745.6 C599.9,743.8 604.0,745.5 607.1,747.1 C610.2,748.7 612.4,755.2 615.0,755.0 C617.6,754.8 620.3,748.2 622.9,745.6 C625.5,743.0 628.4,739.3 630.7,739.3 C633.1,739.3 634.6,746.4 637.0,745.6 C639.4,744.8 642.0,738.3 644.9,734.6 C647.8,730.9 651.4,726.0 654.3,723.6 C657.2,721.2 661.2,719.1 662.2,720.4 C663.2,721.7 661.9,728.0 660.6,731.4 C659.3,734.8 654.8,737.0 654.3,740.9 C653.8,744.8 656.1,751.3 657.4,755.0 C658.7,758.7 661.2,763.4 662.2,762.9 C663.2,762.4 661.9,754.3 663.7,751.9 C665.5,749.5 669.5,749.5 673.2,748.7 C676.9,747.9 681.5,746.1 685.7,747.1 C689.9,748.1 695.1,751.6 698.3,755.0 C701.4,758.4 702.5,766.6 704.6,767.6 C706.7,768.6 707.5,761.8 710.9,761.3 C714.3,760.8 721.3,762.0 725.0,764.4 C728.7,766.8 730.3,771.7 732.9,775.4 C735.5,779.1 740.7,782.7 740.7,786.4 C740.7,790.1 732.9,794.0 732.9,797.4 C732.9,800.8 738.9,803.5 740.7,806.9 C742.5,810.3 742.6,814.0 743.9,817.9 C745.2,821.8 749.4,827.0 748.6,830.4 C747.8,833.8 739.7,834.9 739.2,838.3 C738.7,841.7 743.8,846.4 745.4,850.9 C747.0,855.4 749.1,861.3 748.6,865.0 C748.1,868.7 743.1,869.8 742.3,872.9 C741.5,876.0 741.5,880.0 743.9,883.9 C746.2,887.8 752.5,892.5 756.4,896.4 C760.3,900.3 764.2,904.5 767.4,907.4 C770.5,910.3 774.8,910.3 775.3,913.7 C775.8,917.1 770.3,924.0 770.6,927.9 C770.9,931.8 774.5,934.9 776.9,937.3 C779.2,939.6 781.6,938.6 784.7,942.0 C787.8,945.4 792.8,953.5 795.7,957.7 C798.6,961.9 800.7,963.5 802.0,967.2 C803.3,970.9 802.8,977.1 803.6,979.7 C804.4,982.3 807.2,980.5 806.7,982.9 C806.2,985.3 802.5,991.0 800.5,993.9 C798.5,996.8 797.4,996.2 794.9,1000.4 C792.4,1004.6 786.7,1012.8 785.4,1019.3 C784.1,1025.8 787.5,1033.7 787.0,1039.7 C786.5,1045.7 784.1,1050.7 782.3,1055.4 C780.5,1060.1 777.3,1062.2 776.0,1068.0 C774.7,1073.8 775.4,1082.7 774.4,1090.0 C773.4,1097.3 769.4,1106.2 769.7,1112.0 C770.0,1117.8 776.0,1120.4 776.0,1124.6 C776.0,1128.8 770.2,1132.5 769.7,1137.2 C769.2,1141.9 770.5,1147.7 772.9,1152.9 C775.3,1158.1 781.3,1163.9 783.9,1168.6 C786.5,1173.3 786.8,1177.8 788.6,1181.2 C790.4,1184.6 794.4,1185.3 794.9,1189.0 C795.4,1192.7 792.2,1198.8 791.7,1203.2 C791.2,1207.7 793.5,1211.2 791.7,1215.7 C789.9,1220.2 784.4,1225.2 780.7,1229.9 C777.0,1234.6 773.6,1239.8 769.7,1244.0 C765.8,1248.2 759.8,1251.3 757.2,1255.0 C754.6,1258.7 755.3,1261.8 754.0,1266.0 C752.7,1270.2 750.9,1275.9 749.3,1280.0 C747.7,1284.1 746.5,1290.1 744.3,1290.5 C742.1,1290.9 738.3,1284.3 735.9,1282.2 C733.5,1280.1 732.1,1275.9 729.7,1278.0 C727.3,1280.1 724.8,1293.0 721.3,1294.7 C717.8,1296.4 712.6,1287.7 708.8,1288.4 C705.0,1289.1 701.9,1296.1 698.4,1298.9 C694.9,1301.7 692.5,1300.6 688.0,1305.1 C683.5,1309.6 675.5,1320.4 671.3,1326.0 C667.1,1331.6 667.1,1337.1 662.9,1338.5 C658.7,1339.9 650.0,1337.1 646.2,1334.3 C642.4,1331.5 642.4,1321.8 640.0,1321.8 C637.6,1321.8 634.0,1328.7 631.6,1334.3 C629.2,1339.9 627.1,1349.3 625.4,1355.2 C623.7,1361.1 624.0,1366.3 621.2,1369.8 C618.4,1373.3 611.1,1373.0 608.7,1376.1 C606.3,1379.2 609.4,1388.3 606.6,1388.6 C603.8,1388.9 595.1,1377.1 592.0,1378.1 C588.9,1379.1 590.2,1393.8 587.8,1394.8 C585.4,1395.8 580.5,1387.5 577.4,1384.4 C574.3,1381.3 572.8,1376.8 569.0,1376.1 C565.2,1375.4 556.8,1377.8 554.4,1380.2 C552.0,1382.6 555.1,1387.2 554.4,1390.7 C553.7,1394.2 553.7,1398.0 550.2,1401.1 C546.7,1404.2 537.7,1409.4 533.5,1409.4 C529.3,1409.4 528.0,1403.9 525.2,1401.1 C522.4,1398.3 520.3,1392.1 516.8,1392.8 C513.3,1393.5 507.4,1400.1 504.3,1405.3 C501.2,1410.5 500.5,1423.1 498.1,1424.1 C495.7,1425.1 491.8,1411.8 489.7,1411.5 C487.6,1411.2 485.9,1418.5 485.5,1422.0 C485.1,1425.5 490.0,1431.0 487.6,1432.4 C485.2,1433.8 474.3,1430.7 470.9,1430.3 C467.4,1429.9 468.9,1428.9 466.9,1430.2 C464.9,1431.5 461.1,1438.4 459.1,1438.0 C457.2,1437.6 456.6,1430.8 455.2,1427.8 C453.8,1424.8 452.6,1419.3 450.5,1420.0 C448.4,1420.7 444.5,1427.5 442.7,1431.7 C440.9,1435.9 441.6,1442.0 439.5,1445.0 C437.4,1448.0 433.4,1448.3 430.2,1449.7 C426.9,1451.1 422.1,1451.8 420.0,1453.6 C417.9,1455.4 417.7,1457.8 417.6,1460.7 C417.5,1463.6 419.1,1467.0 419.2,1470.9 C419.3,1474.8 419.4,1480.3 418.4,1484.2 C417.3,1488.1 414.6,1492.0 412.9,1494.3 C411.2,1496.6 409.5,1496.8 408.2,1498.2 C406.9,1499.7 407.1,1502.2 405.1,1503.0 C403.2,1503.8 398.6,1502.9 396.5,1503.0 C394.4,1503.1 393.8,1502.8 392.6,1503.7 C391.4,1504.6 390.8,1508.0 389.5,1508.4 C388.2,1508.8 386.9,1507.1 384.8,1506.1 C382.7,1505.1 379.6,1503.0 377.0,1502.2 C374.4,1501.4 371.5,1500.5 369.1,1501.4 C366.8,1502.3 364.2,1505.5 362.9,1507.6 C361.6,1509.7 360.3,1512.1 361.3,1513.9 C362.3,1515.7 367.0,1517.3 369.1,1518.6 C371.2,1519.9 372.2,1520.4 373.8,1521.7 C375.4,1523.0 377.7,1524.6 378.5,1526.4 C379.3,1528.2 380.1,1532.2 378.5,1532.7 C376.9,1533.2 372.5,1530.5 369.1,1529.5 C365.7,1528.5 361.2,1526.0 358.2,1526.4 C355.2,1526.8 352.5,1529.4 351.1,1531.9 C349.7,1534.4 350.8,1540.1 349.6,1541.3 C348.4,1542.5 346.1,1540.2 344.1,1538.9 C342.1,1537.6 340.2,1534.7 337.8,1533.5 C335.4,1532.3 332.8,1530.7 330.0,1531.9 C327.2,1533.2 325.0,1536.8 321.3,1541.0 C317.6,1545.2 312.6,1555.2 307.6,1557.1 C302.6,1559.0 294.9,1552.1 291.5,1552.5 C288.1,1552.9 289.6,1556.0 286.9,1559.4 C284.2,1562.8 276.9,1568.1 275.4,1573.1 C273.9,1578.1 279.2,1584.6 277.7,1589.2 C276.2,1593.8 270.0,1596.5 266.2,1600.7 C262.4,1604.9 258.8,1613.5 254.8,1614.4 C250.8,1615.3 246.2,1604.9 242.0,1605.9 C237.8,1606.9 233.0,1615.3 229.5,1620.5 C226.0,1625.7 224.0,1635.8 221.2,1637.2 C218.4,1638.6 215.2,1631.3 212.8,1628.9 C210.4,1626.5 208.8,1622.3 206.6,1622.6 C204.4,1622.9 200.8,1627.7 199.7,1630.5 C198.6,1633.3 201.6,1636.8 200.3,1639.3 C199.0,1641.8 195.5,1643.4 192.0,1645.5 C188.5,1647.6 183.6,1649.7 179.4,1651.8 C175.2,1653.9 170.4,1656.0 166.9,1658.1 C163.4,1660.2 159.3,1661.9 158.6,1664.3 C157.9,1666.7 159.3,1669.9 162.8,1672.7 C166.3,1675.5 175.2,1678.2 179.4,1681.0 C183.6,1683.8 187.1,1685.9 187.8,1689.4 C188.5,1692.9 185.0,1696.0 183.6,1701.9 C182.2,1707.8 180.8,1720.3 179.4,1724.8 C178.0,1729.3 178.1,1731.4 175.3,1729.0 C172.5,1726.6 169.4,1714.7 162.8,1710.2 C156.2,1705.7 141.9,1701.9 135.6,1701.9 C129.3,1701.9 127.6,1706.0 125.2,1710.2 C122.8,1714.4 121.3,1721.3 121.0,1726.9 C120.7,1732.5 125.2,1739.4 123.1,1743.6 C121.0,1747.8 115.1,1749.9 108.5,1752.0 C101.9,1754.1 91.6,1754.4 83.5,1756.1 C75.4,1757.8 63.9,1761.0 60.0,1762.0" transform="translate(1.6,1.2)" fill="none" stroke="#c8c8c8" stroke-width="5.5" stroke-linejoin="round" stroke-linecap="round"/><path d="M513.5,758.9 C512.7,761.0 509.3,767.8 508.8,771.4 C508.3,775.0 513.0,779.5 510.4,780.8 C507.8,782.1 496.8,778.2 493.1,779.3 C489.4,780.3 488.1,782.6 488.4,787.1 C488.7,791.6 493.1,800.8 494.7,806.0 C496.3,811.2 495.4,814.4 497.8,818.6 C500.2,822.8 506.7,827.4 508.8,831.1 C510.9,834.8 511.2,836.9 510.4,840.6 C509.6,844.3 505.7,848.4 504.1,853.1 C502.5,857.8 501.0,864.1 501.0,868.8 C501.0,873.5 504.4,878.0 504.1,881.4 C503.8,884.8 502.3,888.0 499.4,889.3 C496.5,890.6 489.7,888.0 486.8,889.3 C483.9,890.6 482.6,894.2 482.1,897.1 C481.6,900.0 482.4,902.8 483.7,906.5 C485.0,910.2 488.4,915.4 490.0,919.1 C491.6,922.8 493.4,925.4 493.1,928.5 C492.8,931.6 490.0,935.1 488.4,938.0 C486.8,940.9 483.4,942.7 483.7,945.8 C484.0,948.9 487.1,953.6 490.0,956.8 C492.9,959.9 499.4,962.3 501.0,964.7 C502.6,967.1 501.8,968.4 499.4,971.0 C497.0,973.6 489.4,977.5 486.8,980.4 C484.2,983.3 482.9,985.3 483.7,988.2 C484.5,991.1 490.4,994.6 491.5,997.7 C492.6,1000.9 491.6,1003.7 490.0,1007.1 C488.4,1010.5 484.2,1014.7 482.1,1018.1 C480.0,1021.5 478.6,1023.3 477.4,1027.5 C476.2,1031.7 477.6,1038.2 475.0,1043.4 C472.4,1048.6 465.5,1054.3 461.6,1058.5 C457.7,1062.7 454.3,1065.0 451.5,1068.6 C448.7,1072.2 445.9,1076.9 444.8,1080.3 C443.7,1083.7 443.7,1085.3 444.8,1088.7 C445.9,1092.1 450.6,1096.5 451.5,1100.4 C452.4,1104.3 451.8,1108.2 449.9,1112.1 C447.9,1116.0 443.1,1122.8 439.8,1123.9 C436.5,1125.0 434.0,1119.1 429.8,1118.8 C425.6,1118.5 419.2,1120.2 414.7,1122.2 C410.2,1124.2 405.1,1127.5 402.9,1130.6 C400.7,1133.7 401.3,1136.7 401.3,1140.6 C401.3,1144.5 403.8,1150.1 402.9,1154.0 C402.0,1157.9 400.7,1162.1 396.2,1164.1 C391.7,1166.1 381.7,1164.1 376.1,1165.8 C370.5,1167.5 366.3,1171.3 362.7,1174.1 C359.1,1176.9 357.4,1180.0 354.3,1182.5 C351.2,1185.0 346.8,1186.1 344.3,1189.2 C341.8,1192.3 338.9,1196.8 339.2,1201.0 C339.5,1205.2 345.6,1210.8 345.9,1214.4 C346.2,1218.0 344.2,1220.6 340.9,1222.8 C337.5,1225.0 329.7,1227.5 325.8,1227.8 C321.9,1228.1 320.5,1226.4 317.4,1224.4 C314.3,1222.5 310.8,1216.9 307.4,1216.1 C304.0,1215.3 299.8,1217.7 297.3,1219.4 C294.8,1221.1 296.2,1224.7 292.3,1226.1 C288.4,1227.5 279.2,1226.4 273.9,1227.8 C268.6,1229.2 264.4,1231.4 260.5,1234.5 C256.6,1237.6 252.7,1242.0 250.4,1246.2 C248.2,1250.4 247.6,1255.1 247.0,1259.6 C246.4,1264.1 247.8,1270.2 247.0,1273.0 C246.2,1275.8 244.8,1276.1 242.0,1276.4 C239.2,1276.7 234.8,1275.3 230.3,1274.7 C225.8,1274.1 218.0,1271.9 215.2,1273.0 C212.4,1274.1 213.8,1278.3 213.5,1281.4 C213.2,1284.5 214.3,1289.0 213.5,1291.5 C212.7,1294.0 210.7,1296.0 208.5,1296.5 C206.3,1297.0 202.0,1293.4 200.1,1294.8 C198.2,1296.2 196.2,1301.0 196.8,1304.9 C197.4,1308.8 201.0,1314.4 203.5,1318.3 C206.0,1322.2 211.0,1325.6 211.8,1328.4 C212.6,1331.2 209.4,1333.5 208.5,1335.1 C207.6,1336.7 206.5,1335.4 206.6,1338.0 C206.7,1340.6 211.6,1346.1 208.9,1350.5 C206.2,1354.9 195.9,1360.9 190.5,1364.3 C185.1,1367.7 180.5,1367.7 176.7,1371.1 C172.9,1374.5 170.2,1381.5 167.5,1384.9 C164.8,1388.4 164.9,1391.8 160.7,1391.8 C156.5,1391.8 147.7,1387.6 142.3,1384.9 C136.9,1382.2 133.1,1380.3 128.5,1375.7 C123.9,1371.1 119.4,1360.8 114.8,1357.4 C110.2,1354.0 105.6,1354.3 101.0,1355.1 C96.4,1355.9 91.4,1362.0 87.2,1362.0 C83.0,1362.0 79.9,1357.8 75.7,1355.1 C71.5,1352.4 67.3,1347.4 62.0,1345.9 C56.6,1344.4 49.0,1344.4 43.6,1345.9 C38.2,1347.4 33.6,1352.0 29.8,1355.1 C26.0,1358.2 24.0,1361.5 20.7,1364.3 C17.4,1367.1 11.8,1370.7 10.0,1372.0" transform="translate(1.6,1.2)" fill="none" stroke="#c8c8c8" stroke-width="5.5" stroke-linejoin="round" stroke-linecap="round"/><path d="M71.2,1357.4 C71.6,1360.1 74.2,1368.1 73.4,1373.4 C72.6,1378.8 66.6,1383.4 66.6,1389.5 C66.6,1395.6 69.6,1403.7 73.4,1410.2 C77.2,1416.7 79.2,1411.7 89.5,1428.5 C99.8,1445.3 128.1,1494.8 135.4,1511.2 C142.7,1527.7 132.7,1521.1 133.1,1527.2 C133.5,1533.3 136.2,1541.8 137.7,1547.9 C139.2,1554.0 138.5,1556.6 142.3,1563.9 C146.1,1571.2 156.9,1585.0 160.7,1591.5 C164.5,1598.0 163.0,1599.5 165.3,1603.0 C167.6,1606.5 168.7,1607.6 174.4,1612.2 C180.1,1616.8 195.5,1627.5 199.7,1630.5" transform="translate(1.6,1.2)" fill="none" stroke="#c8c8c8" stroke-width="5.5" stroke-linejoin="round" stroke-linecap="round"/><path d="M505.6,751.4 C506.9,752.6 510.6,757.8 513.5,758.9 C516.4,760.0 520.2,756.3 522.8,757.7 C525.4,759.1 526.0,765.8 529.1,767.1 C532.2,768.4 537.5,763.9 541.7,765.5 C545.9,767.1 551.7,772.8 554.3,776.5 C556.9,780.2 556.1,787.2 557.4,787.5 C558.7,787.8 560.0,781.5 562.1,778.1 C564.2,774.7 566.3,770.4 570.0,767.0 C573.7,763.6 579.8,761.3 584.1,757.7 C588.5,754.1 592.3,747.4 596.1,745.6 C599.9,743.8 604.0,745.5 607.1,747.1 C610.2,748.7 612.4,755.2 615.0,755.0 C617.6,754.8 620.3,748.2 622.9,745.6 C625.5,743.0 628.4,739.3 630.7,739.3 C633.1,739.3 634.6,746.4 637.0,745.6 C639.4,744.8 642.0,738.3 644.9,734.6 C647.8,730.9 651.4,726.0 654.3,723.6 C657.2,721.2 661.2,719.1 662.2,720.4 C663.2,721.7 661.9,728.0 660.6,731.4 C659.3,734.8 654.8,737.0 654.3,740.9 C653.8,744.8 656.1,751.3 657.4,755.0 C658.7,758.7 661.2,763.4 662.2,762.9 C663.2,762.4 661.9,754.3 663.7,751.9 C665.5,749.5 669.5,749.5 673.2,748.7 C676.9,747.9 681.5,746.1 685.7,747.1 C689.9,748.1 695.1,751.6 698.3,755.0 C701.4,758.4 702.5,766.6 704.6,767.6 C706.7,768.6 707.5,761.8 710.9,761.3 C714.3,760.8 721.3,762.0 725.0,764.4 C728.7,766.8 730.3,771.7 732.9,775.4 C735.5,779.1 740.7,782.7 740.7,786.4 C740.7,790.1 732.9,794.0 732.9,797.4 C732.9,800.8 738.9,803.5 740.7,806.9 C742.5,810.3 742.6,814.0 743.9,817.9 C745.2,821.8 749.4,827.0 748.6,830.4 C747.8,833.8 739.7,834.9 739.2,838.3 C738.7,841.7 743.8,846.4 745.4,850.9 C747.0,855.4 749.1,861.3 748.6,865.0 C748.1,868.7 743.1,869.8 742.3,872.9 C741.5,876.0 741.5,880.0 743.9,883.9 C746.2,887.8 752.5,892.5 756.4,896.4 C760.3,900.3 764.2,904.5 767.4,907.4 C770.5,910.3 774.8,910.3 775.3,913.7 C775.8,917.1 770.3,924.0 770.6,927.9 C770.9,931.8 774.5,934.9 776.9,937.3 C779.2,939.6 781.6,938.6 784.7,942.0 C787.8,945.4 792.8,953.5 795.7,957.7 C798.6,961.9 800.7,963.5 802.0,967.2 C803.3,970.9 802.8,977.1 803.6,979.7 C804.4,982.3 807.2,980.5 806.7,982.9 C806.2,985.3 802.5,991.0 800.5,993.9 C798.5,996.8 797.4,996.2 794.9,1000.4 C792.4,1004.6 786.7,1012.8 785.4,1019.3 C784.1,1025.8 787.5,1033.7 787.0,1039.7 C786.5,1045.7 784.1,1050.7 782.3,1055.4 C780.5,1060.1 777.3,1062.2 776.0,1068.0 C774.7,1073.8 775.4,1082.7 774.4,1090.0 C773.4,1097.3 769.4,1106.2 769.7,1112.0 C770.0,1117.8 776.0,1120.4 776.0,1124.6 C776.0,1128.8 770.2,1132.5 769.7,1137.2 C769.2,1141.9 770.5,1147.7 772.9,1152.9 C775.3,1158.1 781.3,1163.9 783.9,1168.6 C786.5,1173.3 786.8,1177.8 788.6,1181.2 C790.4,1184.6 794.4,1185.3 794.9,1189.0 C795.4,1192.7 792.2,1198.8 791.7,1203.2 C791.2,1207.7 793.5,1211.2 791.7,1215.7 C789.9,1220.2 784.4,1225.2 780.7,1229.9 C777.0,1234.6 773.6,1239.8 769.7,1244.0 C765.8,1248.2 759.8,1251.3 757.2,1255.0 C754.6,1258.7 755.3,1261.8 754.0,1266.0 C752.7,1270.2 750.9,1275.9 749.3,1280.0 C747.7,1284.1 746.5,1290.1 744.3,1290.5 C742.1,1290.9 738.3,1284.3 735.9,1282.2 C733.5,1280.1 732.1,1275.9 729.7,1278.0 C727.3,1280.1 724.8,1293.0 721.3,1294.7 C717.8,1296.4 712.6,1287.7 708.8,1288.4 C705.0,1289.1 701.9,1296.1 698.4,1298.9 C694.9,1301.7 692.5,1300.6 688.0,1305.1 C683.5,1309.6 675.5,1320.4 671.3,1326.0 C667.1,1331.6 667.1,1337.1 662.9,1338.5 C658.7,1339.9 650.0,1337.1 646.2,1334.3 C642.4,1331.5 642.4,1321.8 640.0,1321.8 C637.6,1321.8 634.0,1328.7 631.6,1334.3 C629.2,1339.9 627.1,1349.3 625.4,1355.2 C623.7,1361.1 624.0,1366.3 621.2,1369.8 C618.4,1373.3 611.1,1373.0 608.7,1376.1 C606.3,1379.2 609.4,1388.3 606.6,1388.6 C603.8,1388.9 595.1,1377.1 592.0,1378.1 C588.9,1379.1 590.2,1393.8 587.8,1394.8 C585.4,1395.8 580.5,1387.5 577.4,1384.4 C574.3,1381.3 572.8,1376.8 569.0,1376.1 C565.2,1375.4 556.8,1377.8 554.4,1380.2 C552.0,1382.6 555.1,1387.2 554.4,1390.7 C553.7,1394.2 553.7,1398.0 550.2,1401.1 C546.7,1404.2 537.7,1409.4 533.5,1409.4 C529.3,1409.4 528.0,1403.9 525.2,1401.1 C522.4,1398.3 520.3,1392.1 516.8,1392.8 C513.3,1393.5 507.4,1400.1 504.3,1405.3 C501.2,1410.5 500.5,1423.1 498.1,1424.1 C495.7,1425.1 491.8,1411.8 489.7,1411.5 C487.6,1411.2 485.9,1418.5 485.5,1422.0 C485.1,1425.5 490.0,1431.0 487.6,1432.4 C485.2,1433.8 474.3,1430.7 470.9,1430.3 C467.4,1429.9 468.9,1428.9 466.9,1430.2 C464.9,1431.5 461.1,1438.4 459.1,1438.0 C457.2,1437.6 456.6,1430.8 455.2,1427.8 C453.8,1424.8 452.6,1419.3 450.5,1420.0 C448.4,1420.7 444.5,1427.5 442.7,1431.7 C440.9,1435.9 441.6,1442.0 439.5,1445.0 C437.4,1448.0 433.4,1448.3 430.2,1449.7 C426.9,1451.1 422.1,1451.8 420.0,1453.6 C417.9,1455.4 417.7,1457.8 417.6,1460.7 C417.5,1463.6 419.1,1467.0 419.2,1470.9 C419.3,1474.8 419.4,1480.3 418.4,1484.2 C417.3,1488.1 414.6,1492.0 412.9,1494.3 C411.2,1496.6 409.5,1496.8 408.2,1498.2 C406.9,1499.7 407.1,1502.2 405.1,1503.0 C403.2,1503.8 398.6,1502.9 396.5,1503.0 C394.4,1503.1 393.8,1502.8 392.6,1503.7 C391.4,1504.6 390.8,1508.0 389.5,1508.4 C388.2,1508.8 386.9,1507.1 384.8,1506.1 C382.7,1505.1 379.6,1503.0 377.0,1502.2 C374.4,1501.4 371.5,1500.5 369.1,1501.4 C366.8,1502.3 364.2,1505.5 362.9,1507.6 C361.6,1509.7 360.3,1512.1 361.3,1513.9 C362.3,1515.7 367.0,1517.3 369.1,1518.6 C371.2,1519.9 372.2,1520.4 373.8,1521.7 C375.4,1523.0 377.7,1524.6 378.5,1526.4 C379.3,1528.2 380.1,1532.2 378.5,1532.7 C376.9,1533.2 372.5,1530.5 369.1,1529.5 C365.7,1528.5 361.2,1526.0 358.2,1526.4 C355.2,1526.8 352.5,1529.4 351.1,1531.9 C349.7,1534.4 350.8,1540.1 349.6,1541.3 C348.4,1542.5 346.1,1540.2 344.1,1538.9 C342.1,1537.6 340.2,1534.7 337.8,1533.5 C335.4,1532.3 332.8,1530.7 330.0,1531.9 C327.2,1533.2 325.0,1536.8 321.3,1541.0 C317.6,1545.2 312.6,1555.2 307.6,1557.1 C302.6,1559.0 294.9,1552.1 291.5,1552.5 C288.1,1552.9 289.6,1556.0 286.9,1559.4 C284.2,1562.8 276.9,1568.1 275.4,1573.1 C273.9,1578.1 279.2,1584.6 277.7,1589.2 C276.2,1593.8 270.0,1596.5 266.2,1600.7 C262.4,1604.9 258.8,1613.5 254.8,1614.4 C250.8,1615.3 246.2,1604.9 242.0,1605.9 C237.8,1606.9 233.0,1615.3 229.5,1620.5 C226.0,1625.7 224.0,1635.8 221.2,1637.2 C218.4,1638.6 215.2,1631.3 212.8,1628.9 C210.4,1626.5 208.8,1622.3 206.6,1622.6 C204.4,1622.9 200.8,1627.7 199.7,1630.5 C198.6,1633.3 201.6,1636.8 200.3,1639.3 C199.0,1641.8 195.5,1643.4 192.0,1645.5 C188.5,1647.6 183.6,1649.7 179.4,1651.8 C175.2,1653.9 170.4,1656.0 166.9,1658.1 C163.4,1660.2 159.3,1661.9 158.6,1664.3 C157.9,1666.7 159.3,1669.9 162.8,1672.7 C166.3,1675.5 175.2,1678.2 179.4,1681.0 C183.6,1683.8 187.1,1685.9 187.8,1689.4 C188.5,1692.9 185.0,1696.0 183.6,1701.9 C182.2,1707.8 180.8,1720.3 179.4,1724.8 C178.0,1729.3 178.1,1731.4 175.3,1729.0 C172.5,1726.6 169.4,1714.7 162.8,1710.2 C156.2,1705.7 141.9,1701.9 135.6,1701.9 C129.3,1701.9 127.6,1706.0 125.2,1710.2 C122.8,1714.4 121.3,1721.3 121.0,1726.9 C120.7,1732.5 125.2,1739.4 123.1,1743.6 C121.0,1747.8 115.1,1749.9 108.5,1752.0 C101.9,1754.1 91.6,1754.4 83.5,1756.1 C75.4,1757.8 63.9,1761.0 60.0,1762.0" fill="none" stroke="#ffffff" stroke-width="6.3" stroke-linejoin="round" stroke-linecap="round" />
<path d="M513.5,758.9 C512.7,761.0 509.3,767.8 508.8,771.4 C508.3,775.0 513.0,779.5 510.4,780.8 C507.8,782.1 496.8,778.2 493.1,779.3 C489.4,780.3 488.1,782.6 488.4,787.1 C488.7,791.6 493.1,800.8 494.7,806.0 C496.3,811.2 495.4,814.4 497.8,818.6 C500.2,822.8 506.7,827.4 508.8,831.1 C510.9,834.8 511.2,836.9 510.4,840.6 C509.6,844.3 505.7,848.4 504.1,853.1 C502.5,857.8 501.0,864.1 501.0,868.8 C501.0,873.5 504.4,878.0 504.1,881.4 C503.8,884.8 502.3,888.0 499.4,889.3 C496.5,890.6 489.7,888.0 486.8,889.3 C483.9,890.6 482.6,894.2 482.1,897.1 C481.6,900.0 482.4,902.8 483.7,906.5 C485.0,910.2 488.4,915.4 490.0,919.1 C491.6,922.8 493.4,925.4 493.1,928.5 C492.8,931.6 490.0,935.1 488.4,938.0 C486.8,940.9 483.4,942.7 483.7,945.8 C484.0,948.9 487.1,953.6 490.0,956.8 C492.9,959.9 499.4,962.3 501.0,964.7 C502.6,967.1 501.8,968.4 499.4,971.0 C497.0,973.6 489.4,977.5 486.8,980.4 C484.2,983.3 482.9,985.3 483.7,988.2 C484.5,991.1 490.4,994.6 491.5,997.7 C492.6,1000.9 491.6,1003.7 490.0,1007.1 C488.4,1010.5 484.2,1014.7 482.1,1018.1 C480.0,1021.5 478.6,1023.3 477.4,1027.5 C476.2,1031.7 477.6,1038.2 475.0,1043.4 C472.4,1048.6 465.5,1054.3 461.6,1058.5 C457.7,1062.7 454.3,1065.0 451.5,1068.6 C448.7,1072.2 445.9,1076.9 444.8,1080.3 C443.7,1083.7 443.7,1085.3 444.8,1088.7 C445.9,1092.1 450.6,1096.5 451.5,1100.4 C452.4,1104.3 451.8,1108.2 449.9,1112.1 C447.9,1116.0 443.1,1122.8 439.8,1123.9 C436.5,1125.0 434.0,1119.1 429.8,1118.8 C425.6,1118.5 419.2,1120.2 414.7,1122.2 C410.2,1124.2 405.1,1127.5 402.9,1130.6 C400.7,1133.7 401.3,1136.7 401.3,1140.6 C401.3,1144.5 403.8,1150.1 402.9,1154.0 C402.0,1157.9 400.7,1162.1 396.2,1164.1 C391.7,1166.1 381.7,1164.1 376.1,1165.8 C370.5,1167.5 366.3,1171.3 362.7,1174.1 C359.1,1176.9 357.4,1180.0 354.3,1182.5 C351.2,1185.0 346.8,1186.1 344.3,1189.2 C341.8,1192.3 338.9,1196.8 339.2,1201.0 C339.5,1205.2 345.6,1210.8 345.9,1214.4 C346.2,1218.0 344.2,1220.6 340.9,1222.8 C337.5,1225.0 329.7,1227.5 325.8,1227.8 C321.9,1228.1 320.5,1226.4 317.4,1224.4 C314.3,1222.5 310.8,1216.9 307.4,1216.1 C304.0,1215.3 299.8,1217.7 297.3,1219.4 C294.8,1221.1 296.2,1224.7 292.3,1226.1 C288.4,1227.5 279.2,1226.4 273.9,1227.8 C268.6,1229.2 264.4,1231.4 260.5,1234.5 C256.6,1237.6 252.7,1242.0 250.4,1246.2 C248.2,1250.4 247.6,1255.1 247.0,1259.6 C246.4,1264.1 247.8,1270.2 247.0,1273.0 C246.2,1275.8 244.8,1276.1 242.0,1276.4 C239.2,1276.7 234.8,1275.3 230.3,1274.7 C225.8,1274.1 218.0,1271.9 215.2,1273.0 C212.4,1274.1 213.8,1278.3 213.5,1281.4 C213.2,1284.5 214.3,1289.0 213.5,1291.5 C212.7,1294.0 210.7,1296.0 208.5,1296.5 C206.3,1297.0 202.0,1293.4 200.1,1294.8 C198.2,1296.2 196.2,1301.0 196.8,1304.9 C197.4,1308.8 201.0,1314.4 203.5,1318.3 C206.0,1322.2 211.0,1325.6 211.8,1328.4 C212.6,1331.2 209.4,1333.5 208.5,1335.1 C207.6,1336.7 206.5,1335.4 206.6,1338.0 C206.7,1340.6 211.6,1346.1 208.9,1350.5 C206.2,1354.9 195.9,1360.9 190.5,1364.3 C185.1,1367.7 180.5,1367.7 176.7,1371.1 C172.9,1374.5 170.2,1381.5 167.5,1384.9 C164.8,1388.4 164.9,1391.8 160.7,1391.8 C156.5,1391.8 147.7,1387.6 142.3,1384.9 C136.9,1382.2 133.1,1380.3 128.5,1375.7 C123.9,1371.1 119.4,1360.8 114.8,1357.4 C110.2,1354.0 105.6,1354.3 101.0,1355.1 C96.4,1355.9 91.4,1362.0 87.2,1362.0 C83.0,1362.0 79.9,1357.8 75.7,1355.1 C71.5,1352.4 67.3,1347.4 62.0,1345.9 C56.6,1344.4 49.0,1344.4 43.6,1345.9 C38.2,1347.4 33.6,1352.0 29.8,1355.1 C26.0,1358.2 24.0,1361.5 20.7,1364.3 C17.4,1367.1 11.8,1370.7 10.0,1372.0" fill="none" stroke="#ffffff" stroke-width="6.3" stroke-linejoin="round" stroke-linecap="round" />
<path d="M71.2,1357.4 C71.6,1360.1 74.2,1368.1 73.4,1373.4 C72.6,1378.8 66.6,1383.4 66.6,1389.5 C66.6,1395.6 69.6,1403.7 73.4,1410.2 C77.2,1416.7 79.2,1411.7 89.5,1428.5 C99.8,1445.3 128.1,1494.8 135.4,1511.2 C142.7,1527.7 132.7,1521.1 133.1,1527.2 C133.5,1533.3 136.2,1541.8 137.7,1547.9 C139.2,1554.0 138.5,1556.6 142.3,1563.9 C146.1,1571.2 156.9,1585.0 160.7,1591.5 C164.5,1598.0 163.0,1599.5 165.3,1603.0 C167.6,1606.5 168.7,1607.6 174.4,1612.2 C180.1,1616.8 195.5,1627.5 199.7,1630.5" fill="none" stroke="#ffffff" stroke-width="6.3" stroke-linejoin="round" stroke-linecap="round" />
<path d="M373.0,1507.6 C373.9,1508.6 377.3,1511.8 378.5,1513.9 C379.7,1516.0 379.8,1519.0 380.0,1520.0" fill="none" stroke="#ffffff" stroke-width="6.3" stroke-linejoin="round" stroke-linecap="round" />
<circle cx="513.5" cy="759.5" r="7.5" fill="#fff"/><circle cx="794.5" cy="988.75" r="744" fill="none" stroke="#fff" stroke-width="3"/>
<g fill="#fff"><circle cx="160.7" cy="376.1" r="7"/><circle cx="406" cy="545.6" r="7"/><circle cx="868" cy="535" r="7"/><circle cx="65.5" cy="718.8" r="7"/><circle cx="1477" cy="691" r="7"/><circle cx="325" cy="887" r="7"/><circle cx="773.8" cy="913.7" r="7"/><circle cx="986" cy="920" r="7"/><circle cx="1448" cy="953" r="7"/><circle cx="805.3" cy="982.8" r="7"/><circle cx="505.1" cy="1031.5" r="7"/><circle cx="305.4" cy="1076.4" r="7"/><circle cx="660.1" cy="1107.6" r="7"/><circle cx="1116" cy="1270" r="7"/><circle cx="782.3" cy="1294" r="7"/><circle cx="226.6" cy="1325.8" r="7"/><circle cx="358.5" cy="1403.7" r="7"/><circle cx="554.4" cy="1531" r="7"/><circle cx="614" cy="1681" r="7"/></g>
<g class="mono" font-size="30" fill="#fff" stroke="#fff" stroke-width="0.6"><text transform="translate(169.7,365.8) scale(1.02,1.13)">CURUGUATY</text><text transform="translate(415.0,535.3) scale(1.02,1.13)">SAN ALBERTO</text><text transform="translate(877.0,524.7) scale(1.02,1.13)">CASCAVEL</text><text transform="translate(74.5,708.5) scale(1.02,1.13)">CAAGUAZÚ</text><text transform="translate(1486.0,680.7) scale(1.02,1.13)">GUARAPUAVA</text><text transform="translate(334.0,876.7) scale(1.02,1.13)">NARANJAL</text><text transform="translate(782.8,903.4) scale(1.02,1.13)">SAN ANTONIO</text><text transform="translate(995.0,909.7) scale(1.02,1.13)">FRANCISCO BELTRÃO</text><text transform="translate(1457.0,942.7) scale(1.02,1.13)">BITURUNA</text><text transform="translate(814.3,972.5) scale(1.02,1.13)">B. DE IRIGOYEN</text><text transform="translate(514.1,1021.2) scale(1.02,1.13)">ELDORADO</text><text transform="translate(314.4,1066.1) scale(1.02,1.13)">MARÍA AUXILIADORA</text><text transform="translate(669.1,1097.3) scale(1.02,1.13)">SAN PEDRO</text><text transform="translate(1125.0,1259.7) scale(1.02,1.13)">CHAPECÓ</text><text transform="translate(791.3,1283.7) scale(1.02,1.13)">ITAPIRANGA</text><text transform="translate(235.6,1315.5) scale(1.02,1.13)">SAN IGNACIO</text><text transform="translate(367.5,1393.4) scale(1.02,1.13)">OBERÁ</text><text transform="translate(563.4,1520.7) scale(1.02,1.13)">SANTA ROSA</text><text transform="translate(623.0,1670.7) scale(1.02,1.13)">SANTO ÁNGELO</text><text transform="translate(358.5,1528.4) scale(1.02,1.13)">SAN JAVIER</text><text transform="translate(525.0,750.0) scale(1.02,1.13)">PUERTO IGUAZÚ</text></g>
<rect x="26" y="1652" width="332" height="102" fill="#6c6c6c" fill-opacity="0.78"/><rect x="27.5" y="1653.5" width="329" height="99" fill="none" stroke="#7a7a7a" stroke-width="3" stroke-opacity="0.6"/><rect x="40" y="1667" width="303" height="72" fill="none" stroke="#ffa500" stroke-width="6"/><g class="mono" font-size="22" fill="#fff" stroke="#fff" stroke-width="0.4"><text transform="translate(50.5,1697) scale(1.01,1.13)">Avisos Meteorológicos</text><text transform="translate(50.5,1723.2) scale(1.01,1.13)">a Muy Corto Plazo</text></g>
</g>
<rect x="1569" y="218" width="152" height="1541.5" fill="#000"/>
<rect x="1571" y="220" width="148" height="1537.5" fill="#1b1b1b"/>
<g clip-path="url(#cright)">
<rect x="1574.4" y="732.0" width="15.0" height="4.0" fill="#4466a0"/><rect x="1574.4" y="748.0" width="15.0" height="6.0" fill="#4466a0"/><path d="M1572.5,760 L1605,762 L1607,770 L1598,778 L1592,785 L1592,806 L1594,820 L1593,900 L1596,1000 L1598,1140 L1592,1160 L1590,1226 L1572.5,1226 Z" fill="#3a70aa"/><path d="M1574,780 L1586,780 L1586,1200 L1574,1200 Z" fill="#2e8fc7" opacity="0.55"/><ellipse cx="1588" cy="768" rx="14" ry="5" fill="#2aa6d8" opacity="1"/><ellipse cx="1600" cy="795.5" rx="22" ry="9" fill="#2aa6d8" opacity="1"/><ellipse cx="1594" cy="796" rx="14" ry="7" fill="#4cdc38" opacity="1"/><rect x="1572.5" y="1035.0" width="3.6" height="2.7" fill="#e0d23a"/><rect x="1572.5" y="1034.9" width="2.0" height="2.7" fill="#e0d23a"/><rect x="1572.5" y="1039.9" width="3.5" height="1.6" fill="#e0d23a"/><rect x="1572.5" y="1003.7" width="2.8" height="2.8" fill="#e0e034"/><rect x="1572.5" y="1073.2" width="4.0" height="2.9" fill="#e0d23a"/><rect x="1572.5" y="1077.3" width="3.1" height="2.4" fill="#e0d23a"/><rect x="1572.5" y="1114.7" width="1.6" height="1.8" fill="#e0e034"/><rect x="1572.5" y="990.8" width="3.4" height="2.0" fill="#e0e034"/><rect x="1572.5" y="1064.1" width="2.8" height="2.5" fill="#ec1030"/><rect x="1572.5" y="1045.0" width="2.6" height="1.9" fill="#e0e034"/><rect x="1572.5" y="1149.5" width="3.3" height="2.0" fill="#e0e034"/><rect x="1572.5" y="988.2" width="1.6" height="2.3" fill="#4cdc38"/><rect x="1572.5" y="962.7" width="3.6" height="2.1" fill="#e0e034"/><rect x="1572.5" y="1141.2" width="2.0" height="2.9" fill="#e0e034"/><rect x="1572.5" y="951.0" width="4.0" height="2.1" fill="#3fbf2f"/><rect x="1572.5" y="955.3" width="3.4" height="1.9" fill="#ec1030"/><rect x="1572.5" y="958.3" width="1.5" height="2.1" fill="#4cdc38"/><rect x="1572.5" y="1133.8" width="2.1" height="1.7" fill="#ec1030"/><rect x="1572.5" y="952.6" width="1.9" height="2.3" fill="#3fbf2f"/><rect x="1572.5" y="1034.0" width="4.0" height="2.7" fill="#ec1030"/><rect x="1572.5" y="1028.0" width="1.8" height="2.1" fill="#3fbf2f"/><rect x="1572.5" y="984.7" width="3.7" height="3.0" fill="#4cdc38"/><rect x="1572.5" y="1064.5" width="2.0" height="2.1" fill="#e0e034"/><rect x="1572.5" y="1119.4" width="1.8" height="3.0" fill="#e0d23a"/><rect x="1572.5" y="984.8" width="1.5" height="2.4" fill="#4cdc38"/><rect x="1572.5" y="1114.4" width="1.7" height="1.6" fill="#3fbf2f"/><rect x="1572.5" y="1062.4" width="1.5" height="2.1" fill="#ec1030"/><rect x="1572.5" y="1070.7" width="3.9" height="2.2" fill="#ec1030"/><rect x="1572.5" y="1060.7" width="2.0" height="1.7" fill="#3fbf2f"/><rect x="1572.5" y="1130.8" width="2.1" height="1.8" fill="#e0d23a"/><rect x="1572.5" y="1095.3" width="2.0" height="2.9" fill="#e0d23a"/><rect x="1572.5" y="1125.3" width="1.7" height="1.6" fill="#e0d23a"/><rect x="1572.5" y="962.9" width="3.9" height="1.9" fill="#e0d23a"/><rect x="1572.5" y="1088.0" width="2.6" height="2.9" fill="#4cdc38"/><rect x="1572.5" y="1043.1" width="1.9" height="2.6" fill="#e0d23a"/><rect x="1572.5" y="954.4" width="2.7" height="2.5" fill="#ec1030"/><rect x="1572.5" y="1069.3" width="2.2" height="2.9" fill="#e0e034"/><rect x="1572.5" y="982.8" width="1.7" height="2.1" fill="#e0e034"/><rect x="1572.5" y="992.3" width="1.9" height="2.1" fill="#e0e034"/><rect x="1572.5" y="1060.2" width="1.7" height="1.7" fill="#ec1030"/><rect x="1572.5" y="1034.6" width="3.1" height="2.5" fill="#4cdc38"/><rect x="1572.5" y="1062.7" width="3.0" height="2.9" fill="#ec1030"/><rect x="1572.5" y="1039.7" width="3.3" height="2.9" fill="#4cdc38"/><rect x="1572.5" y="944.5" width="2.7" height="2.6" fill="#e0e034"/><rect x="1572.5" y="1007.0" width="1.7" height="2.3" fill="#e0e034"/><rect x="1572.5" y="1094.8" width="3.5" height="2.9" fill="#ec1030"/><rect x="1572.5" y="1013.9" width="3.8" height="2.8" fill="#3fbf2f"/><rect x="1572.5" y="1027.6" width="3.7" height="2.4" fill="#e0e034"/><rect x="1572.5" y="1071.2" width="2.4" height="1.5" fill="#3fbf2f"/><rect x="1572.5" y="955.2" width="3.1" height="3.0" fill="#e0e034"/><rect x="1572.5" y="1124.8" width="2.5" height="2.6" fill="#4cdc38"/><rect x="1572.5" y="1062.0" width="2.7" height="2.3" fill="#3fbf2f"/><rect x="1572.5" y="1048.9" width="1.6" height="2.4" fill="#e0d23a"/><rect x="1572.5" y="1041.0" width="3.9" height="1.7" fill="#ec1030"/><rect x="1572.5" y="1103.8" width="2.1" height="1.5" fill="#3fbf2f"/><rect x="1572.5" y="1003.2" width="2.0" height="1.8" fill="#e0d23a"/><rect x="1572.5" y="1130.2" width="2.7" height="1.9" fill="#3fbf2f"/><rect x="1572.5" y="1025.0" width="2.0" height="2.1" fill="#4cdc38"/><rect x="1572.5" y="1109.3" width="3.7" height="2.1" fill="#ec1030"/><rect x="1572.5" y="1062.5" width="2.0" height="1.7" fill="#4cdc38"/><rect x="1572.5" y="1013.7" width="3.3" height="2.9" fill="#e0e034"/><rect x="1572.5" y="998.1" width="1.8" height="2.2" fill="#ec1030"/><rect x="1572.5" y="1134.4" width="2.5" height="2.3" fill="#3fbf2f"/><rect x="1572.5" y="1081.2" width="2.6" height="1.6" fill="#e0d23a"/><rect x="1572.5" y="946.6" width="1.6" height="2.6" fill="#e0d23a"/><rect x="1572.5" y="1059.8" width="3.1" height="2.3" fill="#4cdc38"/><rect x="1572.5" y="1074.6" width="2.6" height="1.5" fill="#3fbf2f"/><rect x="1572.5" y="1114.2" width="3.4" height="2.7" fill="#ec1030"/><rect x="1572.5" y="1146.6" width="2.6" height="2.4" fill="#e0e034"/><rect x="1572.5" y="1077.6" width="3.9" height="2.5" fill="#4cdc38"/><rect x="1572.5" y="981.9" width="2.1" height="2.6" fill="#3fbf2f"/><rect x="1572.5" y="1098.6" width="3.3" height="1.8" fill="#e0d23a"/><rect x="1572.5" y="997.2" width="2.8" height="2.9" fill="#4cdc38"/><rect x="1572.5" y="1045.1" width="2.5" height="2.7" fill="#ec1030"/><rect x="1572.5" y="1130.3" width="2.5" height="2.8" fill="#e0e034"/><rect x="1572.5" y="1021.5" width="2.6" height="2.4" fill="#3fbf2f"/><rect x="1572.5" y="1131.1" width="2.9" height="2.5" fill="#3fbf2f"/><rect x="1572.5" y="1045.6" width="2.7" height="2.5" fill="#4cdc38"/><rect x="1572.5" y="983.0" width="2.0" height="2.8" fill="#e0e034"/><rect x="1572.5" y="1145.9" width="2.8" height="2.7" fill="#4cdc38"/><rect x="1573.0" y="1136.0" width="17.0" height="3.0" fill="#ec1030"/><rect x="1580.0" y="1137.0" width="8.0" height="2.0" fill="#e8e43a"/><rect x="1628.2" y="1145.6" width="8.1" height="2.0" fill="#4466a0"/><rect x="1596.2" y="1054.7" width="5.5" height="1.9" fill="#4466a0"/><rect x="1616.7" y="1138.8" width="5.6" height="1.6" fill="#3f62a0"/><rect x="1629.9" y="1126.1" width="3.8" height="1.7" fill="#3f62a0"/><rect x="1693.8" y="1082.9" width="5.6" height="2.8" fill="#3f62a0"/><rect x="1651.5" y="1046.4" width="7.4" height="2.5" fill="#3f62a0"/><rect x="1650.1" y="1145.2" width="4.5" height="2.5" fill="#3f62a0"/><rect x="1615.5" y="1136.1" width="8.8" height="2.3" fill="#3f62a0"/><rect x="1648.2" y="1065.8" width="3.7" height="1.5" fill="#4a6aa3"/><rect x="1595.1" y="1155.1" width="6.1" height="2.1" fill="#3f62a0"/><rect x="1605.8" y="1014.9" width="4.0" height="2.9" fill="#4a6aa3"/><rect x="1638.8" y="1153.1" width="8.5" height="1.9" fill="#4a6aa3"/><rect x="1647.7" y="1054.3" width="8.4" height="2.9" fill="#4a6aa3"/><rect x="1651.3" y="1017.4" width="5.5" height="1.5" fill="#4a6aa3"/><rect x="1606.6" y="1124.7" width="3.1" height="1.8" fill="#4466a0"/><rect x="1593.3" y="1045.5" width="7.3" height="1.9" fill="#4a6aa3"/><rect x="1603.9" y="1116.9" width="3.7" height="2.3" fill="#4a6aa3"/><rect x="1673.1" y="1112.2" width="3.1" height="2.4" fill="#3f62a0"/><rect x="1661.6" y="1086.1" width="6.2" height="1.8" fill="#4466a0"/><rect x="1688.2" y="1097.9" width="4.4" height="2.6" fill="#4a6aa3"/><rect x="1696.3" y="1034.9" width="8.3" height="1.7" fill="#4466a0"/><rect x="1607.0" y="1014.1" width="5.3" height="2.2" fill="#4a6aa3"/><rect x="1653.4" y="1112.8" width="4.2" height="2.4" fill="#4466a0"/><rect x="1602.9" y="1091.2" width="5.1" height="2.7" fill="#4a6aa3"/><rect x="1605.0" y="1080.9" width="7.5" height="2.3" fill="#3f62a0"/><rect x="1594.7" y="1121.9" width="6.7" height="2.9" fill="#4a6aa3"/><rect x="1608.6" y="1029.5" width="4.2" height="2.8" fill="#4a6aa3"/><rect x="1699.5" y="1073.9" width="5.0" height="2.2" fill="#3f62a0"/><rect x="1632.1" y="1033.6" width="5.2" height="2.5" fill="#4466a0"/><rect x="1610.7" y="1082.0" width="3.1" height="2.8" fill="#3f62a0"/><rect x="1690.9" y="1145.4" width="6.4" height="1.8" fill="#3f62a0"/><rect x="1695.0" y="1119.1" width="7.9" height="2.1" fill="#4a6aa3"/><rect x="1691.4" y="1111.2" width="7.6" height="2.1" fill="#3f62a0"/><rect x="1612.9" y="1127.6" width="4.8" height="1.7" fill="#4a6aa3"/><rect x="1622.8" y="1153.8" width="4.8" height="1.8" fill="#4a6aa3"/><rect x="1656.4" y="1085.3" width="5.3" height="3.0" fill="#3f62a0"/><rect x="1616.1" y="1019.1" width="5.4" height="2.4" fill="#4466a0"/><rect x="1637.4" y="1008.1" width="4.2" height="2.1" fill="#4466a0"/><rect x="1621.2" y="1044.1" width="5.0" height="2.3" fill="#4a6aa3"/><rect x="1701.3" y="1090.9" width="6.8" height="2.7" fill="#4466a0"/><rect x="1654.1" y="1106.9" width="8.7" height="2.1" fill="#4466a0"/><rect x="1635.6" y="1155.2" width="8.1" height="2.3" fill="#3f62a0"/><rect x="1598.6" y="1151.2" width="5.5" height="2.3" fill="#3f62a0"/><rect x="1627.3" y="1084.9" width="5.9" height="1.9" fill="#4a6aa3"/><rect x="1679.3" y="1093.7" width="5.5" height="2.5" fill="#4466a0"/><rect x="1702.6" y="1130.7" width="3.7" height="2.4" fill="#4a6aa3"/><rect x="1605.3" y="1137.8" width="5.1" height="1.7" fill="#4a6aa3"/><rect x="1642.0" y="1106.9" width="5.7" height="1.9" fill="#3f62a0"/><rect x="1669.1" y="1058.2" width="7.9" height="1.7" fill="#4a6aa3"/><rect x="1692.9" y="1125.5" width="5.2" height="1.9" fill="#3f62a0"/><rect x="1623.5" y="1038.3" width="8.7" height="2.3" fill="#3f62a0"/><rect x="1598.9" y="1043.4" width="5.6" height="2.4" fill="#4466a0"/><rect x="1617.1" y="1044.5" width="7.5" height="2.9" fill="#4466a0"/><rect x="1654.2" y="1101.0" width="5.2" height="2.2" fill="#4466a0"/><rect x="1630.2" y="1079.1" width="3.8" height="2.8" fill="#4466a0"/><rect x="1642.5" y="1131.5" width="8.0" height="2.7" fill="#4a6aa3"/><rect x="1640.0" y="1041.3" width="7.9" height="2.1" fill="#3f62a0"/><rect x="1628.6" y="1087.0" width="5.6" height="2.4" fill="#3f62a0"/><rect x="1644.4" y="1131.8" width="3.1" height="2.0" fill="#3f62a0"/><rect x="1678.3" y="1052.5" width="4.3" height="2.5" fill="#4a6aa3"/><rect x="1633.4" y="1018.8" width="7.3" height="2.4" fill="#3f62a0"/><rect x="1695.2" y="1070.1" width="4.8" height="2.0" fill="#4a6aa3"/><rect x="1601.5" y="1132.6" width="3.1" height="2.5" fill="#3f62a0"/><rect x="1635.8" y="1031.2" width="6.4" height="2.7" fill="#3f62a0"/><rect x="1609.5" y="1094.6" width="4.1" height="1.6" fill="#4a6aa3"/><rect x="1650.3" y="1087.1" width="6.4" height="2.9" fill="#3f62a0"/><rect x="1626.5" y="1087.3" width="5.0" height="1.9" fill="#4466a0"/><rect x="1693.6" y="1013.6" width="3.9" height="2.6" fill="#3f62a0"/><rect x="1639.7" y="1114.0" width="5.9" height="2.9" fill="#4a6aa3"/><rect x="1652.7" y="1115.3" width="7.2" height="2.9" fill="#4a6aa3"/><rect x="1592.4" y="1060.5" width="3.5" height="2.2" fill="#3f62a0"/><rect x="1664.4" y="1083.8" width="7.8" height="2.1" fill="#4a6aa3"/><rect x="1636.0" y="1084.7" width="4.6" height="2.8" fill="#4a6aa3"/><rect x="1626.9" y="1018.4" width="6.9" height="2.7" fill="#4466a0"/><rect x="1646.4" y="1128.1" width="4.9" height="1.8" fill="#4a6aa3"/><rect x="1616.6" y="1037.7" width="7.3" height="2.4" fill="#4466a0"/><rect x="1641.9" y="1143.1" width="5.4" height="2.9" fill="#4a6aa3"/><rect x="1700.0" y="1105.6" width="3.6" height="2.8" fill="#4a6aa3"/><rect x="1597.6" y="1151.6" width="7.8" height="2.1" fill="#3f62a0"/><rect x="1681.8" y="1123.9" width="3.3" height="2.9" fill="#4466a0"/><rect x="1619.9" y="1067.4" width="8.2" height="2.1" fill="#4a6aa3"/><rect x="1608.4" y="1145.3" width="7.9" height="1.7" fill="#3f62a0"/><rect x="1609.0" y="1123.3" width="3.0" height="2.7" fill="#4466a0"/><ellipse cx="1592" cy="601" rx="13" ry="5" fill="#3478b0" opacity="1"/><ellipse cx="1591" cy="616" rx="12" ry="3.5" fill="#3478b0" opacity="1"/><ellipse cx="1591" cy="624" rx="12" ry="3.5" fill="#3478b0" opacity="1"/><ellipse cx="1588" cy="636" rx="11" ry="3.5" fill="#3478b0" opacity="1"/><ellipse cx="1588" cy="659" rx="10" ry="4" fill="#3478b0" opacity="1"/><ellipse cx="1588" cy="669" rx="10" ry="3" fill="#3478b0" opacity="1"/><ellipse cx="1659" cy="464" rx="18" ry="5" fill="#4cdc38" opacity="1"/><ellipse cx="1684.5" cy="470.5" rx="19" ry="7" fill="#2a7d1e" opacity="1"/><ellipse cx="1624" cy="893" rx="16" ry="4.5" fill="#2e8ec6" opacity="1"/><ellipse cx="1596" cy="907.5" rx="12" ry="6.5" fill="#2aa6d8" opacity="1"/><ellipse cx="1588" cy="919.7" rx="11.5" ry="6" fill="#2f9a26" opacity="1"/><ellipse cx="1642" cy="932" rx="17.5" ry="4.7" fill="#2e8ec6" opacity="1"/><ellipse cx="1642" cy="941.5" rx="17.5" ry="4.7" fill="#2aa6d8" opacity="1"/><ellipse cx="1627" cy="952" rx="17" ry="5" fill="#4cdc38" opacity="1"/><ellipse cx="1618" cy="961" rx="25" ry="5" fill="#3aa82a" opacity="1"/><ellipse cx="1607" cy="974.5" rx="19" ry="9" fill="#2a8a22" opacity="1"/><rect x="1604.6" y="998.0" width="14.2" height="7.7" fill="#e0e034"/><ellipse cx="1625.5" cy="1017" rx="7.5" ry="3" fill="#2aa6d8" opacity="1"/><ellipse cx="1625.5" cy="1021" rx="7.5" ry="2.5" fill="#3aa82a" opacity="1"/><ellipse cx="1599.5" cy="1204" rx="20.5" ry="7" fill="#2aa6d8" opacity="1"/><ellipse cx="1590" cy="1203" rx="10" ry="4.5" fill="#4cdc38" opacity="1"/><ellipse cx="1588.6" cy="1298.5" rx="11" ry="3.5" fill="#3478b0" opacity="1"/><ellipse cx="1661.5" cy="1320" rx="18.5" ry="6" fill="#3fbf2f" opacity="1"/><ellipse cx="1686.5" cy="1316.8" rx="16.5" ry="6" fill="#2e9fd6" opacity="1"/><ellipse cx="1603" cy="1446.7" rx="20.7" ry="11" fill="#2aa6d8" opacity="1"/><ellipse cx="1598" cy="1447" rx="14" ry="7" fill="#3aa82a" opacity="1"/><ellipse cx="1682.6" cy="1594.8" rx="22.6" ry="6.9" fill="#55f53c" opacity="1"/><path d="M1598,1632 Q1600,1627 1612,1627 L1662,1628 Q1670,1632 1670,1640 Q1668,1646 1652,1649 L1641,1650 Q1640,1656 1630,1659.7 L1605,1659.7 Q1598,1657 1598,1650 Z" fill="#2aa6d8"/><ellipse cx="1620" cy="1639.5" rx="27" ry="10.5" fill="#3aa82a" opacity="1"/><ellipse cx="1620" cy="1638.8" rx="25" ry="8.5" fill="#e0e034" opacity="1"/><rect x="1598.4" y="1633.0" width="22.0" height="11.0" fill="#e08a1c"/><rect x="1598.4" y="1636.0" width="26.3" height="8.7" fill="#d0001a"/></g>
<g fill="#fff"><rect x="1620" y="220" width="1.6" height="1538"/><rect x="1670" y="220" width="1.6" height="1538"/></g>
<g class="sans" font-size="23" fill="#fff"><text transform="translate(1598,219.5) rotate(90)" textLength="55" lengthAdjust="spacingAndGlyphs">5 km</text><text transform="translate(1648,219.5) rotate(90)" textLength="68" lengthAdjust="spacingAndGlyphs">10 km</text><text transform="translate(1698,219.5) rotate(90)" textLength="68" lengthAdjust="spacingAndGlyphs">15 km</text></g>
<rect x="1719" y="218" width="40" height="1541.5" fill="#000"/>
<rect x="1721" y="219.7" width="36" height="119.60" fill="#8adfbe"/>
<rect x="1721" y="339" width="36" height="48.30" fill="#96e4c5"/>
<rect x="1721" y="387" width="36" height="25.30" fill="#a6ead0"/>
<rect x="1721" y="412" width="36" height="24.30" fill="#b5eed9"/>
<rect x="1721" y="436" width="36" height="24.30" fill="#c8f3e2"/>
<rect x="1721" y="460" width="36" height="24.30" fill="#dff7ee"/>
<rect x="1721" y="484" width="36" height="24.30" fill="#ffffff"/>
<rect x="1721" y="508" width="36" height="24.30" fill="#960096"/>
<rect x="1721" y="532" width="36" height="24.30" fill="#b000b0"/>
<rect x="1721" y="556" width="36" height="24.30" fill="#cc00cc"/>
<rect x="1721" y="580" width="36" height="24.30" fill="#e800e8"/>
<rect x="1721" y="604" width="36" height="24.30" fill="#d80098"/>
<rect x="1721" y="628" width="36" height="24.30" fill="#c4005c"/>
<rect x="1721" y="652" width="36" height="24.30" fill="#a00000"/>
<rect x="1721" y="676" width="36" height="24.30" fill="#b40008"/>
<rect x="1721" y="700" width="36" height="24.30" fill="#c40014"/>
<rect x="1721" y="724" width="36" height="24.30" fill="#cc001c"/>
<rect x="1721" y="748" width="36" height="24.30" fill="#ec1030"/>
<rect x="1721" y="772" width="36" height="24.30" fill="#e08018"/>
<rect x="1721" y="796" width="36" height="24.30" fill="#d89018"/>
<rect x="1721" y="820" width="36" height="24.30" fill="#d0a820"/>
<rect x="1721" y="844" width="36" height="24.30" fill="#c0c030"/>
<rect x="1721" y="868" width="36" height="24.30" fill="#ccd030"/>
<rect x="1721" y="892" width="36" height="24.30" fill="#d4d834"/>
<rect x="1721" y="916" width="36" height="24.30" fill="#e0e034"/>
<rect x="1721" y="940" width="36" height="24.80" fill="#ecec38"/>
<rect x="1721" y="964.5" width="36" height="24.40" fill="#226b1f"/>
<rect x="1721" y="988.6" width="36" height="24.70" fill="#267f22"/>
<rect x="1721" y="1013" width="36" height="24.30" fill="#2e9323"/>
<rect x="1721" y="1037" width="36" height="24.30" fill="#35a12a"/>
<rect x="1721" y="1061" width="36" height="24.30" fill="#3cb22f"/>
<rect x="1721" y="1085" width="36" height="24.30" fill="#45c935"/>
<rect x="1721" y="1109" width="36" height="24.30" fill="#4bde39"/>
<rect x="1721" y="1133" width="36" height="24.30" fill="#55f53c"/>
<rect x="1721" y="1157" width="36" height="25.30" fill="#2bacd9"/>
<rect x="1721" y="1182" width="36" height="24.30" fill="#27a3d3"/>
<rect x="1721" y="1206" width="36" height="48.30" fill="#2894c9"/>
<rect x="1721" y="1254" width="36" height="48.30" fill="#2f85bf"/>
<rect x="1721" y="1302" width="36" height="48.30" fill="#3377ae"/>
<rect x="1721" y="1350" width="36" height="72.30" fill="#386a9e"/>
<rect x="1721" y="1422" width="36" height="72.30" fill="#3b5e92"/>
<rect x="1721" y="1494" width="36" height="73.30" fill="#3c5486"/>
<rect x="1721" y="1567" width="36" height="72.30" fill="#3d4a78"/>
<rect x="1721" y="1639" width="36" height="118.80" fill="#3d406a"/>
<g fill="#000"><rect x="1759" y="241.7" width="9" height="2"/><rect x="1759" y="321.9" width="9" height="2"/><rect x="1759" y="402.1" width="9" height="2"/><rect x="1759" y="482.3" width="9" height="2"/><rect x="1759" y="562.5" width="9" height="2"/><rect x="1759" y="642.7" width="9" height="2"/><rect x="1759" y="722.9" width="9" height="2"/><rect x="1759" y="803.1" width="9" height="2"/><rect x="1759" y="883.3" width="9" height="2"/><rect x="1759" y="963.5" width="9" height="2"/><rect x="1759" y="1043.7" width="9" height="2"/><rect x="1759" y="1123.9" width="9" height="2"/><rect x="1759" y="1204.1" width="9" height="2"/><rect x="1759" y="1284.3" width="9" height="2"/><rect x="1759" y="1364.5" width="9" height="2"/><rect x="1759" y="1444.7" width="9" height="2"/><rect x="1759" y="1524.9" width="9" height="2"/><rect x="1759" y="1605.1" width="9" height="2"/><rect x="1759" y="1685.3" width="9" height="2"/></g>
<g class="sans" font-size="30" fill="#000"><text x="1778.8" y="253.6">75</text><text x="1778.8" y="333.8">70</text><text x="1778.8" y="414.0">65</text><text x="1778.8" y="494.2">60</text><text x="1778.8" y="574.4">55</text><text x="1778.8" y="654.6">50</text><text x="1778.8" y="734.8">45</text><text x="1778.8" y="815.0">40</text><text x="1778.8" y="895.2">35</text><text x="1778.8" y="975.4">30</text><text x="1778.8" y="1055.6">25</text><text x="1778.8" y="1135.8">20</text><text x="1778.8" y="1216.0">15</text><text x="1778.8" y="1296.2">10</text><text x="1778.8" y="1376.4">5</text><text x="1778.8" y="1456.6">0</text><rect x="1781" y="1527.9" width="17.5" height="2.3"/><text x="1801.3" y="1536.8">5</text><rect x="1781" y="1608.1" width="17.5" height="2.3"/><text x="1801.3" y="1617.0">10</text><rect x="1781" y="1688.3" width="17.5" height="2.3"/><text x="1801.3" y="1697.2">15</text></g>
<g><path d="M149.8,1814.3 A48,48 0 1 0 148,1857.3 L128,1853 A29,29 0 1 1 124.5,1811.7 Z" fill="#ffb300"/><path transform="translate(0,0)" d="M99.2,1819 C105,1816 112,1814.8 120,1815 C130,1815.3 138,1818.3 145,1819 C153,1819.8 160,1818 166.6,1814 L166.6,1825.2 C161,1830 153,1832.5 145,1832.4 C138,1832.2 130,1829.4 120,1829 C112,1828.6 105,1829.6 99.2,1832.8 Z" fill="#0093d6"/><path transform="translate(0,20.7)" d="M99.2,1819 C105,1816 112,1814.8 120,1815 C130,1815.3 138,1818.3 145,1819 C153,1819.8 160,1818 166.6,1814 L166.6,1825.2 C161,1830 153,1832.5 145,1832.4 C138,1832.2 130,1829.4 120,1829 C112,1828.6 105,1829.6 99.2,1832.8 Z" fill="#0093d6"/><g class="sans" fill="#1e1e1e" stroke="#1e1e1e" stroke-width="0.35"><text x="178.5" y="1808" font-size="30.4" textLength="102" lengthAdjust="spacingAndGlyphs">Servicio</text><text x="178.5" y="1834.1" font-size="30.4" textLength="201.5" lengthAdjust="spacingAndGlyphs">Meteorológico</text><text x="178.5" y="1860.2" font-size="30.4" textLength="120" lengthAdjust="spacingAndGlyphs">Nacional</text><text x="180.5" y="1881" font-size="18.2" stroke-width="0.6" textLength="92.5" lengthAdjust="spacingAndGlyphs">Argentina</text></g></g>
<g stroke="#46517a" fill="none" opacity="1.0"><line x1="524.0" y1="1796.0" x2="509.0" y2="1796.0" stroke-width="1.1"/><line x1="524.1" y1="1794.8" x2="513.2" y2="1793.4" stroke-width="1.1"/><line x1="524.3" y1="1793.7" x2="509.8" y2="1789.8" stroke-width="1.1"/><line x1="524.7" y1="1792.6" x2="514.5" y2="1788.3" stroke-width="1.1"/><line x1="525.2" y1="1791.5" x2="512.2" y2="1784.0" stroke-width="1.1"/><line x1="525.9" y1="1790.5" x2="517.1" y2="1783.8" stroke-width="1.1"/><line x1="526.6" y1="1789.6" x2="516.0" y2="1779.0" stroke-width="1.1"/><line x1="527.5" y1="1788.9" x2="520.8" y2="1780.1" stroke-width="1.1"/><line x1="528.5" y1="1788.2" x2="521.0" y2="1775.2" stroke-width="1.1"/><line x1="529.6" y1="1787.7" x2="525.3" y2="1777.5" stroke-width="1.1"/><line x1="530.7" y1="1787.3" x2="526.8" y2="1772.8" stroke-width="1.1"/><line x1="531.8" y1="1787.1" x2="530.4" y2="1776.2" stroke-width="1.1"/><line x1="533.0" y1="1787.0" x2="533.0" y2="1772.0" stroke-width="1.1"/><line x1="534.2" y1="1787.1" x2="535.6" y2="1776.2" stroke-width="1.1"/><line x1="535.3" y1="1787.3" x2="539.2" y2="1772.8" stroke-width="1.1"/><line x1="536.4" y1="1787.7" x2="540.7" y2="1777.5" stroke-width="1.1"/><line x1="537.5" y1="1788.2" x2="545.0" y2="1775.2" stroke-width="1.1"/><line x1="538.5" y1="1788.9" x2="545.2" y2="1780.1" stroke-width="1.1"/><line x1="539.4" y1="1789.6" x2="550.0" y2="1779.0" stroke-width="1.1"/><line x1="540.1" y1="1790.5" x2="548.9" y2="1783.8" stroke-width="1.1"/><line x1="540.8" y1="1791.5" x2="553.8" y2="1784.0" stroke-width="1.1"/><line x1="541.3" y1="1792.6" x2="551.5" y2="1788.3" stroke-width="1.1"/><line x1="541.7" y1="1793.7" x2="556.2" y2="1789.8" stroke-width="1.1"/><line x1="541.9" y1="1794.8" x2="552.8" y2="1793.4" stroke-width="1.1"/><line x1="542.0" y1="1796.0" x2="557.0" y2="1796.0" stroke-width="1.1"/><circle cx="533" cy="1797" r="7" stroke-width="1.3" fill="#e6e6e6"/><path d="M529,1796 h3 M534,1796 h3" stroke-width="1.4"/><ellipse cx="533" cy="1844" rx="34.5" ry="40.5" stroke-width="5" stroke-dasharray="2.2 1.6" opacity="0.85"/><ellipse cx="533" cy="1840.6" rx="28" ry="39.5" stroke-width="2" fill="#e6e6e6"/><line x1="517.2" y1="1809.0" x2="548.8" y2="1809.0" stroke-width="0.9" opacity="0.7"/><line x1="513.3" y1="1814.0" x2="552.7" y2="1814.0" stroke-width="0.9" opacity="0.7"/><line x1="510.6" y1="1819.0" x2="555.4" y2="1819.0" stroke-width="0.9" opacity="0.7"/><line x1="508.6" y1="1824.0" x2="557.4" y2="1824.0" stroke-width="0.9" opacity="0.7"/><line x1="507.2" y1="1829.0" x2="558.8" y2="1829.0" stroke-width="0.9" opacity="0.7"/><line x1="506.4" y1="1834.0" x2="559.6" y2="1834.0" stroke-width="0.9" opacity="0.7"/><line x1="506.0" y1="1839.0" x2="560.0" y2="1839.0" stroke-width="0.9" opacity="0.7"/><line x1="506.1" y1="1844.0" x2="559.9" y2="1844.0" stroke-width="0.9" opacity="0.7"/><path d="M507,1851 Q533,1840 559,1851 M508,1860 Q521,1852 533,1849 Q545,1852 558,1860" stroke-width="1" opacity="0.8"/><line x1="533" y1="1827" x2="533" y2="1872" stroke-width="2"/><path d="M525,1827 C523,1818 527,1813 533,1813 C540,1813 543,1819 541,1827 Z" stroke-width="1.3" fill="#e6e6e6"/><path d="M523,1856 Q533,1849 543,1855 Q533,1860 523,1856 Z" stroke-width="1.2"/><path d="M524,1884 h18 v5 h-18 Z" fill="#46517a" stroke="none"/><path d="M528,1889 L521,1896 M538,1889 L545,1896" stroke-width="2.5"/></g><g stroke="#27315a" fill="none" opacity="1.0"><line x1="885.0" y1="1796.0" x2="870.0" y2="1796.0" stroke-width="1.1"/><line x1="885.1" y1="1794.8" x2="874.2" y2="1793.4" stroke-width="1.1"/><line x1="885.3" y1="1793.7" x2="870.8" y2="1789.8" stroke-width="1.1"/><line x1="885.7" y1="1792.6" x2="875.5" y2="1788.3" stroke-width="1.1"/><line x1="886.2" y1="1791.5" x2="873.2" y2="1784.0" stroke-width="1.1"/><line x1="886.9" y1="1790.5" x2="878.1" y2="1783.8" stroke-width="1.1"/><line x1="887.6" y1="1789.6" x2="877.0" y2="1779.0" stroke-width="1.1"/><line x1="888.5" y1="1788.9" x2="881.8" y2="1780.1" stroke-width="1.1"/><line x1="889.5" y1="1788.2" x2="882.0" y2="1775.2" stroke-width="1.1"/><line x1="890.6" y1="1787.7" x2="886.3" y2="1777.5" stroke-width="1.1"/><line x1="891.7" y1="1787.3" x2="887.8" y2="1772.8" stroke-width="1.1"/><line x1="892.8" y1="1787.1" x2="891.4" y2="1776.2" stroke-width="1.1"/><line x1="894.0" y1="1787.0" x2="894.0" y2="1772.0" stroke-width="1.1"/><line x1="895.2" y1="1787.1" x2="896.6" y2="1776.2" stroke-width="1.1"/><line x1="896.3" y1="1787.3" x2="900.2" y2="1772.8" stroke-width="1.1"/><line x1="897.4" y1="1787.7" x2="901.7" y2="1777.5" stroke-width="1.1"/><line x1="898.5" y1="1788.2" x2="906.0" y2="1775.2" stroke-width="1.1"/><line x1="899.5" y1="1788.9" x2="906.2" y2="1780.1" stroke-width="1.1"/><line x1="900.4" y1="1789.6" x2="911.0" y2="1779.0" stroke-width="1.1"/><line x1="901.1" y1="1790.5" x2="909.9" y2="1783.8" stroke-width="1.1"/><line x1="901.8" y1="1791.5" x2="914.8" y2="1784.0" stroke-width="1.1"/><line x1="902.3" y1="1792.6" x2="912.5" y2="1788.3" stroke-width="1.1"/><line x1="902.7" y1="1793.7" x2="917.2" y2="1789.8" stroke-width="1.1"/><line x1="902.9" y1="1794.8" x2="913.8" y2="1793.4" stroke-width="1.1"/><line x1="903.0" y1="1796.0" x2="918.0" y2="1796.0" stroke-width="1.1"/><circle cx="894" cy="1797" r="7" stroke-width="1.3" fill="#e6e6e6"/><path d="M890,1796 h3 M895,1796 h3" stroke-width="1.4"/><ellipse cx="894" cy="1844" rx="34.5" ry="40.5" stroke-width="5" stroke-dasharray="2.2 1.6" opacity="0.85"/><ellipse cx="894" cy="1840.6" rx="28" ry="39.5" stroke-width="2" fill="#e6e6e6"/><line x1="878.2" y1="1809.0" x2="909.8" y2="1809.0" stroke-width="0.9" opacity="0.7"/><line x1="874.3" y1="1814.0" x2="913.7" y2="1814.0" stroke-width="0.9" opacity="0.7"/><line x1="871.6" y1="1819.0" x2="916.4" y2="1819.0" stroke-width="0.9" opacity="0.7"/><line x1="869.6" y1="1824.0" x2="918.4" y2="1824.0" stroke-width="0.9" opacity="0.7"/><line x1="868.2" y1="1829.0" x2="919.8" y2="1829.0" stroke-width="0.9" opacity="0.7"/><line x1="867.4" y1="1834.0" x2="920.6" y2="1834.0" stroke-width="0.9" opacity="0.7"/><line x1="867.0" y1="1839.0" x2="921.0" y2="1839.0" stroke-width="0.9" opacity="0.7"/><line x1="867.1" y1="1844.0" x2="920.9" y2="1844.0" stroke-width="0.9" opacity="0.7"/><path d="M868,1851 Q894,1840 920,1851 M869,1860 Q882,1852 894,1849 Q906,1852 919,1860" stroke-width="1" opacity="0.8"/><line x1="894" y1="1827" x2="894" y2="1872" stroke-width="2"/><path d="M886,1827 C884,1818 888,1813 894,1813 C901,1813 904,1819 902,1827 Z" stroke-width="1.3" fill="#e6e6e6"/><path d="M884,1856 Q894,1849 904,1855 Q894,1860 884,1856 Z" stroke-width="1.2"/><path d="M885,1884 h18 v5 h-18 Z" fill="#27315a" stroke="none"/><path d="M889,1889 L882,1896 M899,1889 L906,1896" stroke-width="2.5"/></g><g class="serif" font-weight="bold"><text x="583.6" y="1828.2" font-size="28.9" fill="#2d3760" textLength="131.4" lengthAdjust="spacingAndGlyphs">Ministerio</text><text x="583.6" y="1853.7" font-size="28.9" fill="#2d3760" textLength="132.7" lengthAdjust="spacingAndGlyphs">de Defensa</text><text x="946.9" y="1827" font-size="28.9" fill="#27315a" textLength="134.1" lengthAdjust="spacingAndGlyphs">Ministerio</text><text x="946.9" y="1853.5" font-size="28.9" fill="#27315a" textLength="161.6" lengthAdjust="spacingAndGlyphs">de Economía</text></g><g class="serif"><text x="583.9" y="1873.3" font-size="15.5" fill="#3d4770" textLength="149.3" lengthAdjust="spacingAndGlyphs">República Argentina</text><text x="946.5" y="1873.5" font-size="15.5" fill="#27315a" textLength="152.8" lengthAdjust="spacingAndGlyphs">República Argentina</text></g>
</svg>
</body></html>
